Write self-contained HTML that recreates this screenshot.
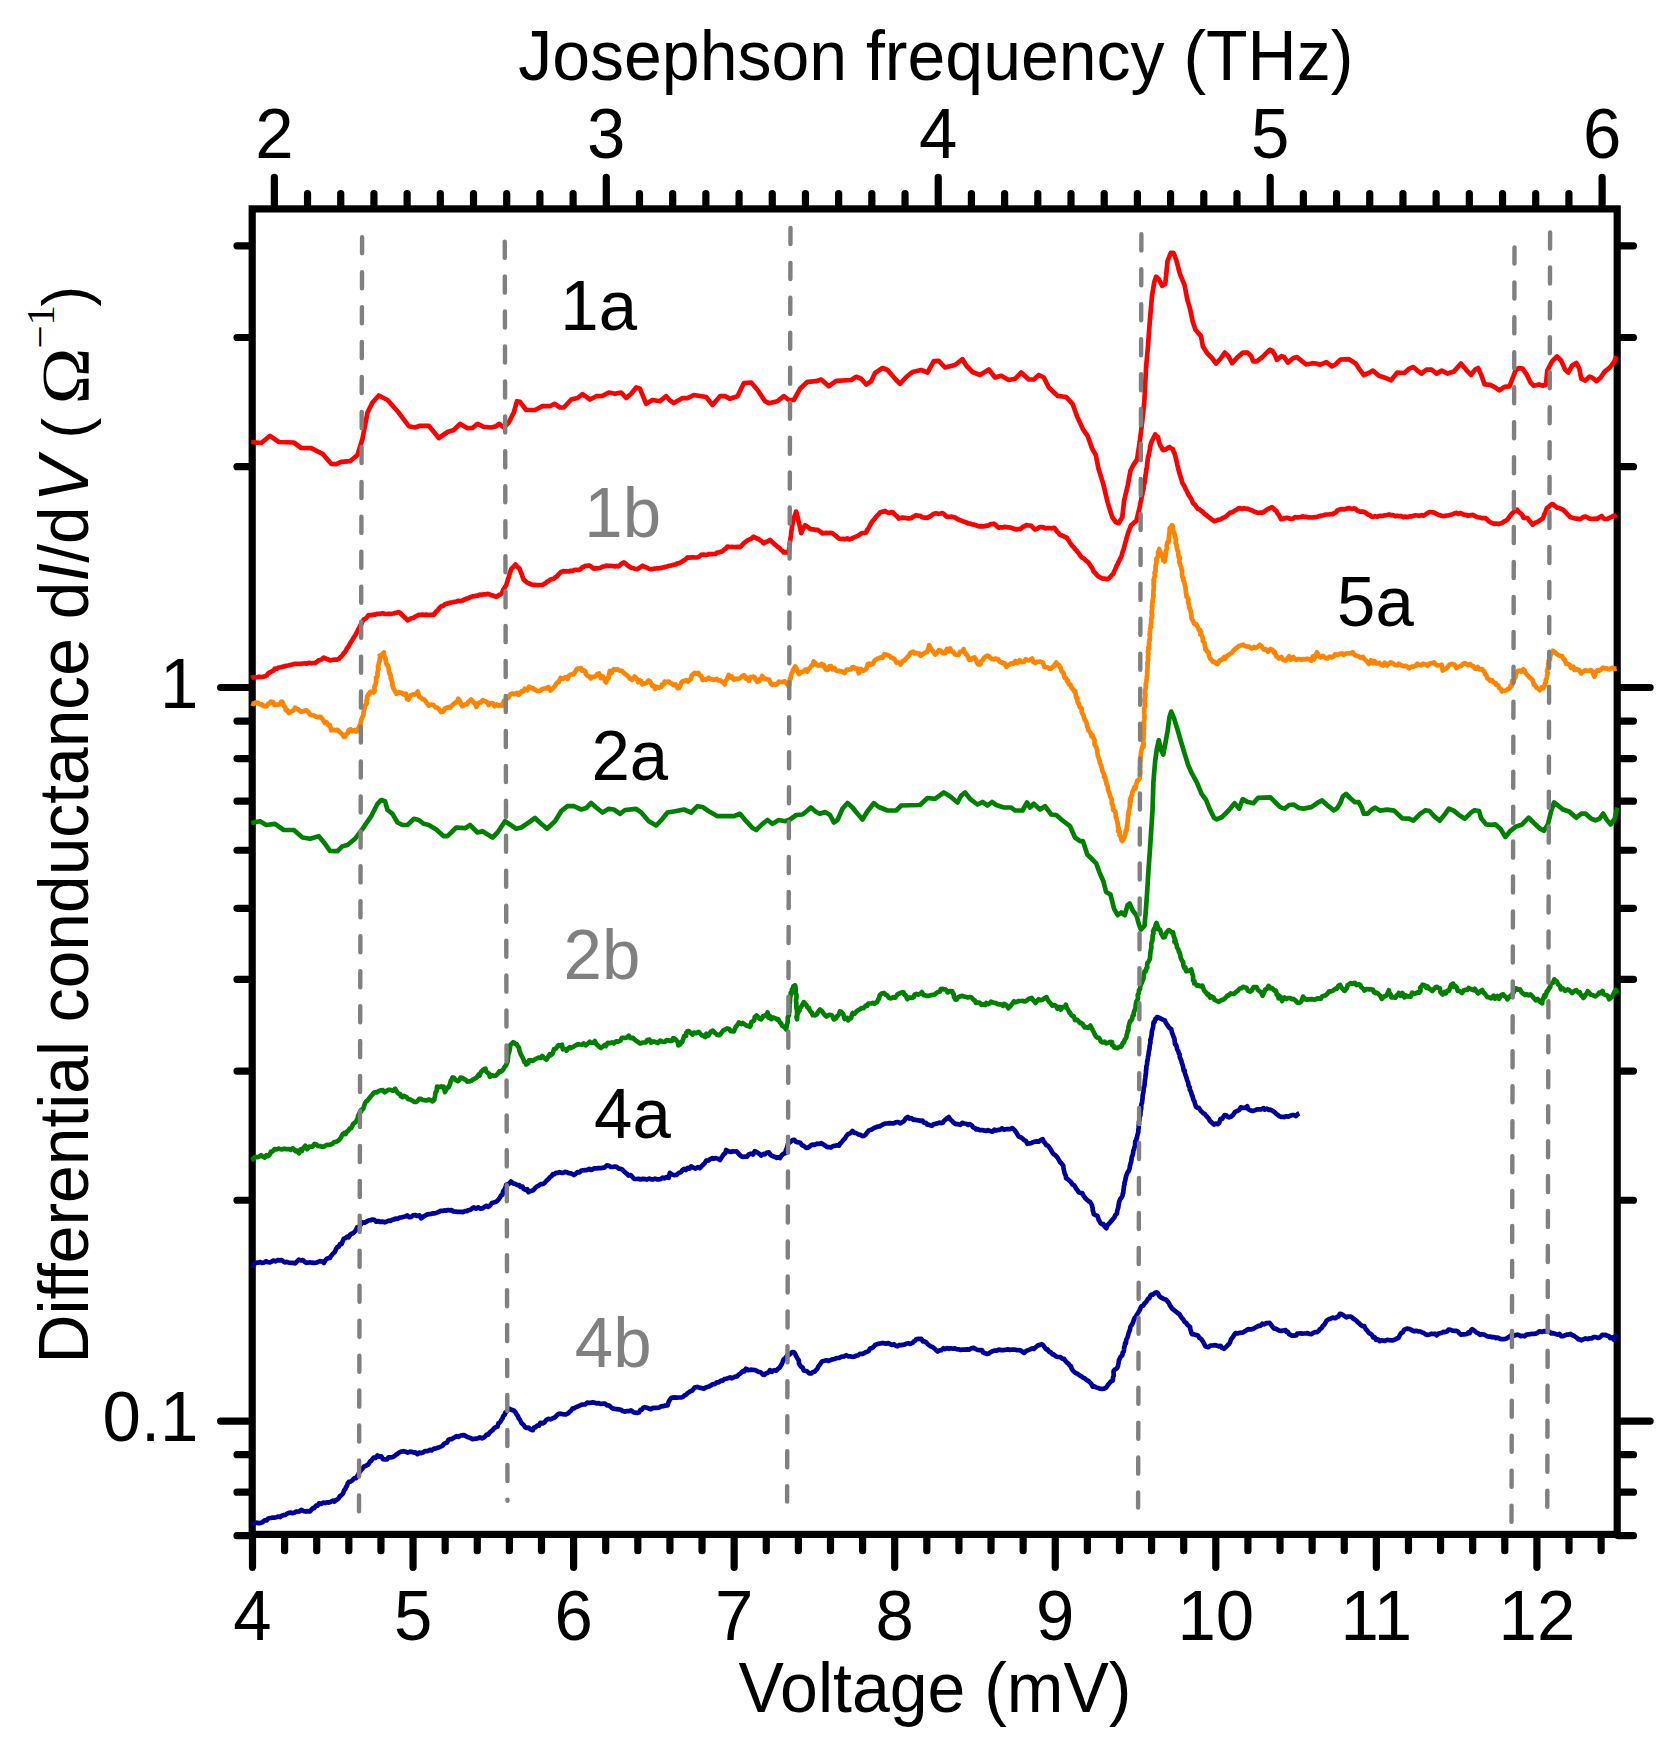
<!DOCTYPE html>
<html lang="en"><head><meta charset="utf-8"><title>Differential conductance vs voltage</title>
<style>html,body{margin:0;padding:0;background:#fff}svg{display:block}text{font-family:"Liberation Sans",Arial,sans-serif}.tk{stroke:#000;stroke-width:7.2;stroke-linecap:round;fill:none}.cv{fill:none;stroke-width:4.7;stroke-linejoin:round;stroke-linecap:butt}.ds{stroke:#808080;stroke-width:4.4;stroke-linecap:round;stroke-dasharray:16.1 18.85;fill:none}</style></head><body>
<svg width="1680" height="1749" viewBox="0 0 1680 1749">
<rect width="1680" height="1749" fill="#fff"/>
<rect x="252.2" y="208.9" width="1365.0" height="1325.5" fill="none" stroke="#000" stroke-width="7.2"/>
<path class="tk" d="M252.50 1535.4V1567.3M284.61 1535.4V1550.7M316.72 1535.4V1550.7M348.83 1535.4V1550.7M380.94 1535.4V1550.7M413.05 1535.4V1567.3M445.16 1535.4V1550.7M477.27 1535.4V1550.7M509.38 1535.4V1550.7M541.49 1535.4V1550.7M573.60 1535.4V1567.3M605.71 1535.4V1550.7M637.82 1535.4V1550.7M669.93 1535.4V1550.7M702.04 1535.4V1550.7M734.15 1535.4V1567.3M766.26 1535.4V1550.7M798.37 1535.4V1550.7M830.48 1535.4V1550.7M862.59 1535.4V1550.7M894.70 1535.4V1567.3M926.81 1535.4V1550.7M958.92 1535.4V1550.7M991.03 1535.4V1550.7M1023.14 1535.4V1550.7M1055.25 1535.4V1567.3M1087.36 1535.4V1550.7M1119.47 1535.4V1550.7M1151.58 1535.4V1550.7M1183.69 1535.4V1550.7M1215.80 1535.4V1567.3M1247.91 1535.4V1550.7M1280.02 1535.4V1550.7M1312.13 1535.4V1550.7M1344.24 1535.4V1550.7M1376.35 1535.4V1567.3M1408.46 1535.4V1550.7M1440.57 1535.4V1550.7M1472.68 1535.4V1550.7M1504.79 1535.4V1550.7M1536.90 1535.4V1567.3M1569.01 1535.4V1550.7M1601.12 1535.4V1550.7M274.35 207.9V177.4M307.54 207.9V193.6M340.74 207.9V193.6M373.93 207.9V193.6M407.13 207.9V193.6M440.32 207.9V193.6M473.51 207.9V193.6M506.71 207.9V193.6M539.90 207.9V193.6M573.10 207.9V193.6M606.29 207.9V177.4M639.48 207.9V193.6M672.68 207.9V193.6M705.87 207.9V193.6M739.07 207.9V193.6M772.26 207.9V193.6M805.45 207.9V193.6M838.65 207.9V193.6M871.84 207.9V193.6M905.04 207.9V193.6M938.23 207.9V177.4M971.42 207.9V193.6M1004.62 207.9V193.6M1037.81 207.9V193.6M1071.01 207.9V193.6M1104.20 207.9V193.6M1137.39 207.9V193.6M1170.59 207.9V193.6M1203.78 207.9V193.6M1236.98 207.9V193.6M1270.17 207.9V177.4M1303.36 207.9V193.6M1336.56 207.9V193.6M1369.75 207.9V193.6M1402.95 207.9V193.6M1436.14 207.9V193.6M1469.33 207.9V193.6M1502.53 207.9V193.6M1535.72 207.9V193.6M1568.92 207.9V193.6M1602.11 207.9V177.4M251.2 245.83H237M1618.2 245.83H1633.5M251.2 337.48H237M1618.2 337.48H1633.5M251.2 466.66H237M1618.2 466.66H1633.5M251.2 687.50H220.6M1618.2 687.50H1650.1M251.2 721.07H237M1618.2 721.07H1633.5M251.2 758.59H237M1618.2 758.59H1633.5M251.2 801.14H237M1618.2 801.14H1633.5M251.2 850.25H237M1618.2 850.25H1633.5M251.2 908.34H237M1618.2 908.34H1633.5M251.2 979.43H237M1618.2 979.43H1633.5M251.2 1071.08H237M1618.2 1071.08H1633.5M251.2 1200.26H237M1618.2 1200.26H1633.5M251.2 1421.10H220.6M1618.2 1421.10H1650.1M251.2 1454.67H237M1618.2 1454.67H1633.5M251.2 1492.19H237M1618.2 1492.19H1633.5M251.2 1535.70H237M1618.2 1535.70H1633.5"/>
<g class="cv">
<polyline stroke="#00009b" points="251.2,1524.2 253.2,1523.7 254.9,1523.4 256.8,1522.6 258.8,1523.3 260.7,1522.9 262.5,1522.2 264.6,1520.3 266.6,1520.5 268.2,1518.5 270.4,1518.0 272.5,1517.7 274.3,1517.6 276.3,1517.3 278.4,1516.6 280.2,1517.1 281.6,1515.8 283.5,1515.2 285.3,1515.0 286.9,1513.7 289.0,1512.9 290.7,1512.6 292.3,1513.1 294.5,1512.7 296.2,1511.5 297.7,1511.8 299.5,1511.4 301.3,1509.8 303.5,1511.0 305.7,1511.6 307.6,1511.1 309.9,1511.5 311.3,1509.7 312.9,1508.2 314.2,1508.1 316.0,1505.5 317.6,1505.7 319.0,1503.4 321.1,1503.9 323.3,1502.6 325.0,1503.1 326.9,1502.3 328.8,1502.7 330.7,1501.9 332.7,1500.6 334.4,1501.6 336.1,1499.8 337.2,1499.8 338.9,1497.9 340.2,1495.9 341.2,1495.5 342.6,1494.0 343.6,1492.2 344.2,1490.1 345.2,1489.3 346.2,1486.6 346.9,1486.1 347.9,1483.0 348.8,1481.9 350.5,1481.6 352.3,1480.4 354.4,1478.2 356.3,1478.1 357.3,1476.0 358.4,1474.2 359.4,1472.4 360.4,1471.1 361.5,1469.5 362.5,1468.5 364.1,1466.5 366.0,1465.8 367.6,1464.8 368.4,1464.4 370.1,1461.4 371.3,1460.7 372.6,1458.8 373.7,1457.6 375.7,1457.9 377.5,1455.5 379.4,1456.6 381.2,1456.3 382.9,1459.1 385.1,1459.5 387.0,1459.3 388.5,1457.3 390.4,1457.3 391.6,1457.4 393.6,1456.7 395.4,1455.3 397.7,1453.8 399.4,1452.4 401.2,1451.6 403.6,1451.2 405.6,1451.7 407.6,1452.6 410.0,1451.7 412.0,1451.9 413.8,1452.6 415.4,1452.4 417.4,1454.1 419.2,1452.6 421.4,1453.1 423.0,1452.6 424.8,1451.2 427.4,1451.2 429.6,1449.9 431.6,1450.4 434.0,1448.5 435.4,1448.6 437.3,1447.9 438.9,1447.5 441.0,1446.5 442.5,1445.7 444.2,1443.6 445.5,1443.1 447.0,1442.7 448.4,1439.9 450.1,1439.1 451.5,1439.2 453.2,1438.1 454.8,1437.2 456.4,1436.2 458.3,1436.9 460.1,1435.9 461.7,1435.3 464.0,1435.2 465.9,1436.2 467.9,1437.3 470.0,1437.7 472.1,1439.2 474.3,1438.8 476.0,1438.7 478.3,1438.2 479.9,1437.3 482.0,1438.3 483.9,1437.5 485.1,1436.5 486.7,1434.5 488.2,1434.7 489.6,1432.6 491.2,1431.2 492.8,1430.0 494.4,1427.9 495.6,1427.3 497.5,1426.6 498.4,1423.3 499.4,1422.9 500.6,1421.4 501.5,1419.6 502.6,1418.2 503.2,1416.1 504.7,1414.7 505.4,1412.6 506.2,1412.1 507.9,1409.7 509.5,1408.7 511.2,1409.7 512.8,1410.3 514.1,1410.8 515.6,1412.6 516.6,1414.4 517.7,1415.7 518.9,1418.6 519.9,1419.6 521.4,1422.9 522.1,1423.5 523.8,1425.1 525.0,1427.2 526.3,1428.0 528.5,1427.5 530.3,1429.2 532.8,1430.2 534.0,1427.5 535.7,1427.1 537.1,1425.6 539.0,1425.6 540.4,1422.9 542.6,1423.4 544.5,1422.4 546.2,1420.1 548.2,1418.9 550.5,1419.3 552.5,1418.4 554.1,1417.8 555.7,1416.6 557.3,1414.9 558.7,1413.8 560.6,1413.7 562.5,1414.1 564.4,1414.3 566.0,1414.4 567.9,1413.5 569.3,1412.2 570.8,1411.0 572.5,1408.6 574.5,1408.1 575.9,1407.1 578.4,1406.2 579.8,1405.6 581.8,1404.7 583.5,1404.5 585.4,1404.3 587.1,1402.7 588.9,1402.8 590.5,1402.8 592.6,1402.4 594.5,1402.6 596.3,1403.3 598.8,1403.1 600.6,1404.0 603.2,1403.6 605.1,1403.6 606.9,1405.3 608.8,1405.3 610.8,1407.1 612.5,1408.4 614.7,1408.9 616.7,1409.1 618.9,1409.4 620.8,1409.7 622.7,1411.0 624.7,1411.6 627.2,1411.0 629.1,1411.2 631.0,1410.4 633.4,1412.2 635.3,1412.7 637.2,1412.9 639.1,1412.3 640.5,1409.9 641.7,1410.0 643.3,1407.7 644.8,1407.2 646.9,1407.8 648.9,1408.5 650.8,1409.2 652.4,1408.1 654.5,1407.8 656.9,1407.9 658.8,1407.7 661.2,1406.4 663.3,1406.2 665.3,1405.6 667.6,1405.4 668.2,1403.3 668.8,1401.6 670.0,1399.5 671.3,1398.0 672.3,1397.6 674.6,1397.4 676.9,1397.7 678.9,1397.5 681.2,1397.4 682.9,1397.0 684.3,1395.5 686.1,1394.8 687.6,1393.1 689.1,1392.1 690.5,1391.3 692.0,1390.8 693.6,1388.9 694.6,1387.6 697.2,1386.9 699.8,1387.9 701.8,1388.1 703.9,1388.6 705.6,1387.7 707.3,1386.9 709.2,1386.4 711.5,1385.1 713.1,1384.1 715.0,1384.1 716.9,1382.3 718.9,1382.3 720.9,1380.6 722.5,1380.8 724.3,1379.1 726.1,1378.7 728.0,1378.2 730.1,1377.4 731.9,1378.3 733.9,1377.2 735.4,1376.6 737.1,1376.4 738.8,1374.5 740.1,1373.8 741.5,1372.4 743.4,1370.8 744.5,1371.3 746.0,1368.7 748.3,1370.2 750.6,1369.7 752.6,1369.8 754.8,1370.0 756.7,1370.8 758.3,1371.9 760.0,1372.0 761.7,1373.1 763.0,1374.6 764.4,1374.8 765.8,1373.4 767.3,1372.9 768.9,1371.9 770.0,1370.1 771.8,1371.9 774.2,1370.2 776.3,1370.6 777.9,1368.9 779.6,1367.7 781.1,1365.3 781.7,1364.3 782.6,1362.0 783.2,1360.3 783.8,1359.2 785.5,1357.8 787.1,1355.6 788.7,1355.2 790.6,1353.7 792.2,1352.0 793.7,1352.1 794.8,1353.2 796.0,1355.8 796.9,1357.4 797.7,1359.0 798.7,1360.1 799.0,1363.4 800.0,1365.4 801.3,1366.8 802.5,1367.4 803.7,1370.4 804.8,1370.7 807.1,1371.3 809.2,1373.4 811.5,1373.3 812.8,1372.0 814.6,1371.7 816.0,1370.0 817.3,1369.0 818.3,1366.5 819.4,1365.2 820.4,1363.8 821.6,1362.0 822.4,1361.2 824.4,1360.8 826.6,1360.3 828.4,1361.0 830.5,1360.1 832.5,1359.3 834.7,1359.0 836.4,1358.1 838.8,1358.0 840.8,1357.1 842.4,1356.6 844.1,1356.4 846.2,1355.2 848.1,1356.3 849.9,1356.4 852.1,1356.8 854.2,1356.7 855.9,1355.8 858.1,1355.4 859.7,1353.9 862.0,1354.0 864.1,1353.2 865.7,1352.1 867.6,1351.7 868.8,1350.8 870.0,1348.5 871.9,1347.9 873.8,1346.7 875.0,1345.0 876.7,1344.3 878.8,1343.7 880.6,1343.5 882.6,1342.9 884.4,1343.4 886.2,1343.7 888.3,1343.0 889.9,1344.0 891.9,1344.9 894.0,1344.2 895.8,1345.8 897.5,1346.3 899.4,1344.9 900.9,1345.3 902.7,1344.9 904.4,1344.6 905.9,1343.8 908.4,1343.3 910.3,1343.9 912.7,1342.9 913.8,1341.4 915.0,1341.0 916.1,1339.4 918.7,1338.9 921.4,1338.9 922.8,1341.4 924.6,1341.3 926.3,1342.5 927.8,1344.4 929.3,1345.4 931.0,1346.6 932.7,1347.1 934.5,1348.5 935.9,1350.0 937.7,1351.5 939.4,1350.4 941.3,1350.2 943.5,1348.2 944.7,1349.1 947.1,1348.1 949.1,1348.8 950.8,1348.3 953.2,1348.7 954.8,1348.3 956.6,1349.1 958.7,1349.3 960.5,1349.9 962.4,1349.6 964.6,1349.7 967.0,1349.4 969.3,1349.7 971.1,1348.4 973.7,1347.9 975.6,1349.0 977.6,1350.0 980.0,1350.2 981.8,1350.0 983.2,1352.5 985.3,1353.3 987.1,1354.0 988.8,1353.5 990.6,1352.2 992.4,1351.2 994.9,1350.5 996.8,1350.6 998.9,1349.6 1001.3,1350.1 1003.5,1350.1 1005.8,1349.7 1007.7,1349.4 1010.0,1349.9 1012.1,1349.5 1014.5,1349.6 1016.4,1350.1 1018.8,1350.2 1020.6,1350.3 1022.1,1351.5 1024.0,1352.9 1025.9,1351.2 1028.3,1350.1 1030.2,1349.3 1032.2,1348.3 1033.8,1348.9 1036.3,1346.8 1038.0,1345.4 1040.0,1344.9 1041.7,1344.2 1043.3,1345.4 1044.7,1347.3 1046.2,1349.4 1047.5,1349.4 1049.4,1352.1 1050.9,1352.4 1052.4,1354.4 1053.8,1354.4 1056.1,1356.5 1057.8,1356.9 1060.4,1357.1 1062.4,1358.8 1064.1,1358.9 1065.6,1361.1 1067.1,1362.8 1068.7,1363.9 1069.7,1365.5 1071.0,1366.3 1071.7,1368.9 1072.9,1370.5 1073.8,1371.5 1075.9,1373.3 1077.6,1373.8 1080.0,1375.6 1081.4,1376.3 1082.8,1377.6 1084.6,1378.3 1086.3,1379.8 1088.3,1380.8 1089.8,1382.2 1091.3,1383.9 1092.7,1386.6 1094.5,1386.3 1096.0,1387.5 1098.0,1387.8 1099.8,1388.7 1102.0,1388.9 1104.1,1388.6 1106.1,1387.6 1107.2,1386.1 1108.2,1384.6 1109.6,1383.0 1110.8,1381.5 1112.0,1381.1 1112.8,1380.6 1113.0,1377.3 1113.8,1375.6 1113.5,1371.7 1113.6,1371.0 1114.6,1369.8 1116.4,1368.7 1117.6,1367.1 1118.1,1365.4 1118.5,1363.2 1119.0,1360.0 1119.6,1359.2 1120.4,1357.1 1121.3,1356.3 1122.4,1355.1 1122.7,1352.4 1123.7,1351.5 1124.0,1349.8 1124.2,1347.2 1124.7,1346.1 1125.1,1343.0 1126.0,1343.3 1126.2,1340.0 1126.8,1338.6 1127.5,1337.4 1128.3,1334.4 1128.7,1332.9 1129.3,1331.4 1129.9,1329.8 1130.4,1326.9 1131.3,1325.4 1132.2,1324.3 1132.9,1322.8 1133.7,1320.3 1134.6,1317.9 1135.6,1317.4 1136.4,1315.3 1137.3,1314.1 1138.5,1312.2 1139.7,1310.1 1140.6,1307.9 1141.7,1306.0 1143.4,1305.6 1144.5,1303.3 1145.9,1302.3 1146.9,1300.8 1148.3,1298.5 1149.4,1298.2 1150.4,1295.7 1151.5,1294.5 1153.1,1294.6 1155.1,1292.8 1156.5,1292.4 1157.8,1293.1 1159.2,1295.8 1160.5,1297.2 1162.3,1298.1 1164.3,1299.2 1165.9,1299.5 1167.6,1301.5 1168.9,1302.8 1169.9,1305.5 1170.6,1306.2 1172.0,1308.5 1172.8,1309.1 1174.4,1310.4 1176.2,1311.8 1177.8,1313.2 1179.5,1314.1 1180.4,1315.9 1181.8,1318.0 1183.2,1319.3 1184.4,1321.7 1186.2,1322.9 1187.3,1324.6 1188.6,1325.7 1190.1,1327.0 1190.1,1328.7 1190.8,1330.5 1191.3,1332.7 1192.1,1334.2 1193.7,1334.3 1195.6,1334.9 1198.1,1335.5 1199.2,1337.7 1201.1,1338.9 1202.4,1340.8 1203.9,1343.2 1205.1,1345.8 1206.1,1346.7 1208.4,1347.1 1210.3,1345.6 1212.3,1345.5 1214.2,1345.2 1216.3,1345.3 1218.7,1346.3 1220.6,1345.8 1221.8,1347.6 1224.0,1348.8 1225.5,1347.5 1227.6,1345.3 1229.3,1343.7 1230.0,1342.4 1230.9,1339.6 1231.9,1338.2 1232.9,1337.0 1234.1,1335.0 1235.6,1333.0 1237.6,1333.5 1239.9,1332.8 1241.9,1332.6 1243.2,1332.5 1244.6,1331.4 1246.2,1330.5 1248.1,1329.1 1250.0,1329.3 1251.6,1329.3 1253.4,1328.7 1255.1,1327.6 1257.0,1326.7 1258.4,1325.9 1260.5,1325.8 1262.3,1323.7 1264.3,1324.4 1266.1,1323.2 1268.1,1323.2 1269.6,1322.8 1270.8,1324.4 1272.6,1326.8 1274.0,1328.7 1275.5,1328.7 1277.4,1329.7 1279.4,1330.7 1281.3,1330.9 1283.4,1330.5 1285.6,1330.1 1286.5,1331.8 1288.0,1331.9 1289.0,1334.1 1290.0,1334.6 1292.0,1335.7 1294.6,1335.6 1296.2,1335.5 1297.2,1333.7 1299.0,1333.5 1300.5,1333.3 1302.6,1333.6 1304.2,1333.5 1306.2,1333.4 1307.6,1333.2 1309.7,1334.0 1311.5,1334.1 1313.2,1332.9 1315.1,1332.1 1316.8,1332.2 1318.6,1331.1 1320.0,1329.1 1321.4,1328.3 1322.8,1326.0 1324.4,1324.5 1325.5,1322.8 1326.6,1320.6 1328.9,1319.1 1330.6,1318.7 1332.8,1317.6 1335.3,1318.2 1337.4,1316.8 1338.6,1316.4 1339.9,1313.8 1341.6,1314.1 1342.9,1315.0 1344.6,1316.1 1346.3,1317.3 1348.1,1316.5 1350.1,1316.5 1351.7,1317.2 1352.9,1318.4 1354.6,1319.4 1356.3,1320.6 1357.6,1322.1 1359.0,1323.2 1361.1,1325.2 1362.4,1326.2 1364.2,1326.0 1365.8,1329.2 1367.3,1330.6 1368.2,1332.2 1369.7,1333.6 1370.7,1333.8 1372.1,1335.2 1373.2,1337.4 1374.8,1337.4 1376.1,1339.9 1377.8,1339.3 1379.8,1341.2 1381.3,1340.3 1383.1,1340.6 1385.0,1341.1 1387.2,1339.8 1389.2,1340.2 1391.3,1340.4 1393.0,1340.3 1395.4,1339.4 1397.2,1338.4 1398.7,1337.6 1399.6,1335.6 1401.2,1333.0 1402.9,1332.3 1404.0,1330.1 1404.9,1329.4 1406.9,1328.6 1408.6,1328.8 1410.2,1329.2 1412.2,1330.5 1414.4,1331.3 1416.4,1330.8 1418.4,1331.4 1420.3,1331.5 1422.1,1332.4 1423.8,1333.0 1425.4,1334.3 1427.4,1335.0 1429.7,1334.4 1431.5,1333.7 1433.5,1334.0 1434.9,1333.7 1436.6,1335.4 1438.2,1333.5 1440.0,1333.4 1442.0,1332.7 1443.5,1331.8 1445.1,1332.1 1447.3,1331.3 1448.6,1329.5 1450.5,1329.8 1452.5,1330.7 1455.0,1330.8 1456.3,1330.8 1458.0,1331.6 1459.3,1333.2 1461.0,1334.6 1462.9,1334.4 1465.0,1334.3 1467.0,1334.0 1468.3,1332.4 1469.7,1333.1 1471.1,1330.2 1472.2,1329.1 1474.4,1330.6 1476.2,1332.5 1477.9,1333.1 1479.9,1334.8 1481.3,1334.2 1483.8,1334.5 1485.2,1335.1 1487.0,1336.3 1488.5,1336.6 1490.8,1336.7 1492.4,1337.3 1494.0,1337.0 1496.0,1338.1 1497.7,1337.6 1499.3,1338.5 1501.3,1339.2 1503.4,1339.2 1505.4,1338.9 1506.9,1338.3 1508.9,1337.0 1510.7,1335.5 1512.1,1334.7 1514.1,1335.7 1515.7,1335.0 1517.6,1334.6 1519.3,1335.2 1520.8,1336.2 1522.4,1335.8 1524.5,1336.3 1526.5,1334.6 1528.5,1334.4 1530.4,1334.2 1532.1,1333.8 1534.0,1333.9 1535.8,1333.7 1537.5,1332.8 1539.7,1331.3 1541.6,1332.0 1543.8,1331.2 1546.0,1331.4 1547.8,1331.7 1549.2,1331.6 1551.3,1333.3 1553.0,1333.2 1554.5,1333.6 1556.3,1334.3 1558.0,1334.7 1559.5,1333.9 1561.4,1336.2 1563.1,1336.1 1564.8,1335.3 1566.7,1334.7 1568.4,1334.6 1570.5,1333.9 1572.0,1335.1 1573.6,1335.5 1575.1,1336.6 1576.6,1337.6 1578.3,1339.3 1579.5,1339.2 1581.2,1340.3 1583.2,1339.4 1585.5,1338.4 1587.8,1339.1 1589.4,1338.4 1591.5,1338.5 1593.4,1337.2 1595.7,1337.0 1597.8,1338.0 1599.5,1337.5 1601.0,1336.2 1602.3,1334.9 1603.8,1335.1 1605.4,1334.8 1606.8,1335.6 1608.8,1336.0 1610.2,1338.1 1611.9,1337.4 1613.9,1339.6 1614.6,1336.8 1616.3,1335.5 1617.3,1334.6"/>
<polyline stroke="#00009b" points="251.2,1265.0 252.9,1265.7 254.6,1263.8 256.6,1262.7 258.4,1262.7 259.8,1262.0 261.9,1262.8 264.0,1262.7 266.1,1261.2 267.7,1262.1 270.1,1262.3 271.7,1261.5 273.9,1260.5 275.7,1261.4 277.6,1260.1 280.1,1260.4 281.7,1260.0 283.8,1261.8 285.2,1262.4 286.9,1261.8 288.8,1262.6 291.2,1262.8 292.7,1262.8 295.2,1263.4 296.9,1261.7 298.9,1259.7 301.1,1260.5 302.8,1260.0 304.5,1261.7 306.2,1262.8 307.7,1262.7 309.8,1262.3 311.9,1262.7 314.0,1262.9 316.4,1262.7 318.0,1261.9 319.9,1261.1 321.9,1261.3 323.9,1263.0 325.2,1260.6 326.8,1258.7 328.3,1258.2 329.9,1258.0 330.8,1256.2 332.5,1254.2 333.8,1252.9 335.0,1251.6 336.1,1248.9 337.6,1246.8 338.7,1246.7 339.9,1244.2 341.6,1244.1 342.7,1241.2 343.7,1238.8 345.5,1238.1 347.3,1236.6 348.7,1237.3 350.4,1234.5 352.1,1233.3 353.2,1233.3 355.0,1231.3 356.0,1230.0 357.1,1227.4 358.8,1227.4 359.6,1225.8 361.1,1224.1 362.3,1222.2 364.6,1222.7 366.6,1221.6 368.5,1220.5 370.6,1220.2 372.5,1219.5 374.3,1219.8 376.3,1221.7 378.5,1221.0 379.7,1222.0 382.4,1221.6 384.6,1222.3 386.4,1221.7 388.8,1220.7 390.4,1220.9 392.2,1219.8 394.1,1219.4 395.5,1218.6 397.8,1218.9 399.6,1217.6 401.4,1217.5 403.0,1217.0 405.2,1216.5 407.4,1215.5 409.3,1217.2 411.1,1217.0 412.9,1215.4 415.0,1215.0 417.2,1216.0 419.5,1215.3 421.2,1218.4 423.4,1216.6 425.4,1215.5 427.4,1214.4 429.4,1214.2 431.1,1213.9 433.1,1213.4 434.8,1213.4 437.1,1212.6 438.7,1212.1 440.6,1210.8 442.8,1210.9 444.3,1210.4 446.3,1210.7 448.0,1210.0 450.1,1210.4 451.7,1210.2 453.5,1211.5 455.7,1211.7 457.3,1211.9 459.3,1211.8 461.1,1211.8 462.8,1212.1 465.0,1211.1 466.7,1211.1 468.4,1210.2 470.6,1209.7 472.1,1208.4 474.0,1207.4 476.0,1208.7 478.2,1207.3 480.5,1208.7 482.2,1208.5 484.6,1206.8 486.5,1205.8 488.3,1206.9 489.9,1205.7 491.9,1203.1 493.7,1202.6 495.6,1202.0 497.6,1200.6 499.1,1198.8 500.0,1197.4 501.1,1195.4 502.5,1194.6 503.1,1191.5 503.9,1190.4 504.5,1189.5 505.5,1187.5 506.2,1184.8 508.0,1184.4 509.6,1183.2 511.0,1181.5 513.5,1183.6 515.3,1183.8 517.1,1185.1 519.2,1185.1 520.5,1187.0 522.5,1186.6 523.6,1188.9 525.6,1189.8 527.3,1189.2 528.4,1192.2 530.0,1191.3 532.0,1190.6 533.3,1190.3 535.2,1188.0 536.7,1186.6 538.7,1185.7 540.7,1184.2 542.5,1184.1 543.9,1183.6 545.4,1182.1 546.7,1180.5 548.5,1178.9 549.9,1177.2 551.4,1176.3 552.9,1174.2 554.4,1174.2 556.0,1172.9 557.5,1173.0 559.6,1172.1 561.4,1172.8 563.1,1172.8 565.2,1171.9 566.7,1172.2 568.6,1173.2 570.5,1173.3 572.2,1173.9 573.9,1175.1 575.4,1174.1 577.4,1172.1 579.6,1172.3 581.3,1170.5 583.0,1170.3 585.1,1170.2 587.1,1170.1 589.0,1168.9 590.7,1169.9 592.4,1169.4 594.3,1168.3 596.7,1168.4 598.6,1168.1 600.5,1168.1 602.4,1167.9 604.7,1167.4 606.8,1165.3 608.9,1165.8 610.8,1167.0 613.1,1166.8 615.2,1166.5 616.6,1166.8 618.6,1168.6 620.3,1168.8 622.3,1169.5 623.8,1171.2 625.6,1172.8 627.2,1174.0 628.6,1175.6 630.7,1175.0 632.4,1176.9 634.0,1178.8 636.1,1179.0 638.5,1178.9 640.5,1179.4 642.9,1178.9 645.1,1179.1 646.7,1179.6 649.0,1178.6 651.1,1179.3 653.2,1179.4 655.0,1178.6 656.8,1179.3 658.5,1179.4 660.6,1179.2 662.7,1177.6 664.6,1178.4 666.6,1177.0 668.7,1177.9 669.8,1172.9 672.0,1174.4 674.0,1175.1 676.4,1175.0 678.1,1173.4 679.2,1172.7 681.0,1172.2 682.6,1169.9 684.1,1168.8 685.9,1170.0 687.8,1167.9 689.5,1168.7 691.1,1166.4 693.5,1167.8 695.6,1168.6 697.8,1167.2 699.8,1168.2 701.1,1166.7 703.0,1164.8 704.8,1163.1 706.2,1160.5 708.2,1160.7 709.8,1159.4 712.4,1158.2 713.8,1158.7 716.0,1158.1 718.2,1158.9 720.0,1160.0 721.0,1158.4 722.4,1156.3 723.7,1154.2 725.2,1153.4 726.1,1150.0 728.3,1151.2 730.7,1151.9 732.7,1151.4 735.1,1151.5 736.5,1151.3 737.8,1152.7 739.5,1154.8 740.8,1155.9 742.3,1156.9 744.7,1156.6 746.9,1156.7 748.7,1154.5 750.9,1153.6 753.1,1154.5 754.8,1151.2 757.2,1152.4 759.2,1153.8 761.1,1155.6 763.5,1153.8 764.9,1154.4 766.6,1152.8 768.8,1152.3 770.5,1154.9 771.8,1155.8 773.8,1156.5 775.0,1156.9 776.8,1157.8 778.4,1157.4 780.0,1158.0 781.2,1156.0 782.5,1154.4 783.8,1153.6 785.2,1153.3 785.9,1150.2 786.7,1148.7 787.3,1146.5 787.9,1144.2 789.0,1143.0 790.7,1141.6 792.4,1140.2 794.5,1139.9 796.2,1142.0 798.4,1142.3 800.3,1142.7 802.0,1145.2 803.1,1145.5 804.7,1146.6 806.1,1147.9 808.2,1147.6 810.5,1145.7 812.4,1144.7 814.6,1144.9 816.8,1143.7 819.3,1144.0 821.4,1143.1 823.0,1144.3 825.0,1145.5 827.2,1147.1 829.0,1147.1 830.9,1147.6 833.0,1146.0 834.9,1145.9 836.9,1145.3 839.0,1145.7 840.2,1143.4 841.1,1142.9 842.3,1141.4 843.9,1139.3 845.1,1138.4 846.4,1136.0 848.1,1134.2 849.4,1133.6 850.9,1132.8 852.4,1130.9 854.3,1133.0 855.4,1132.8 857.2,1133.8 858.9,1134.7 860.6,1134.9 862.2,1136.1 863.7,1136.0 865.2,1135.1 866.8,1133.0 868.6,1130.7 870.0,1130.0 871.6,1129.6 873.8,1128.1 875.4,1127.6 877.5,1126.6 879.6,1126.4 881.6,1125.3 883.0,1124.4 884.8,1123.6 886.9,1123.5 889.5,1123.1 891.5,1123.4 893.7,1123.3 895.6,1122.4 898.0,1122.0 900.4,1123.4 902.6,1121.9 903.7,1121.4 904.9,1119.8 905.9,1118.1 907.7,1116.9 909.3,1118.6 911.2,1118.1 913.2,1119.8 915.1,1119.7 917.0,1120.2 918.5,1120.4 920.8,1120.9 922.5,1120.6 923.9,1122.7 925.9,1122.8 927.2,1124.7 928.8,1124.6 929.9,1125.2 932.1,1125.8 933.6,1124.1 935.3,1123.9 937.6,1123.4 939.3,1122.6 940.9,1123.1 942.8,1122.8 944.1,1120.8 945.8,1119.4 947.3,1118.1 948.8,1117.1 950.3,1119.5 951.9,1120.8 953.2,1122.3 954.9,1123.5 956.2,1124.1 958.3,1124.2 960.3,1124.8 962.2,1122.8 964.3,1123.5 966.3,1123.8 968.2,1124.8 969.9,1124.1 971.8,1125.4 972.8,1127.1 974.9,1128.1 975.9,1129.3 978.2,1129.2 979.9,1130.2 982.1,1130.1 984.0,1130.4 986.0,1131.0 988.0,1130.1 990.1,1131.1 992.3,1131.7 994.4,1129.7 996.4,1130.5 998.1,1129.9 999.9,1129.9 1002.2,1128.3 1004.2,1129.8 1006.2,1129.1 1008.3,1129.0 1010.1,1129.1 1012.3,1128.1 1014.0,1129.5 1015.0,1130.7 1016.4,1132.6 1017.2,1134.0 1018.7,1136.5 1020.7,1137.3 1022.2,1138.2 1024.1,1140.1 1025.9,1140.9 1027.4,1143.8 1029.0,1143.5 1031.2,1143.1 1033.1,1142.2 1034.8,1141.6 1037.1,1141.3 1038.7,1141.7 1040.5,1140.2 1042.8,1139.3 1043.8,1141.9 1044.8,1142.7 1046.4,1145.3 1047.7,1145.5 1048.9,1146.9 1050.0,1148.4 1051.4,1150.8 1052.4,1152.6 1054.0,1154.4 1055.1,1155.0 1056.2,1156.2 1057.5,1157.6 1059.0,1160.1 1060.1,1162.2 1061.2,1163.1 1062.5,1164.8 1063.2,1165.7 1063.5,1167.7 1064.0,1170.4 1064.6,1173.1 1065.3,1174.8 1065.7,1175.4 1066.1,1178.2 1067.6,1179.1 1069.2,1180.5 1070.9,1182.0 1072.3,1184.3 1073.9,1185.1 1074.9,1186.3 1076.1,1188.6 1077.4,1190.0 1078.6,1192.1 1080.3,1193.0 1082.3,1193.2 1083.0,1194.9 1084.8,1197.3 1085.5,1198.3 1087.2,1200.0 1088.7,1201.3 1090.2,1202.0 1092.1,1205.5 1092.0,1206.1 1092.7,1208.3 1092.7,1210.3 1093.3,1211.7 1093.8,1214.2 1095.6,1215.1 1097.4,1215.9 1098.1,1217.6 1098.7,1220.2 1099.5,1221.0 1100.7,1223.3 1102.1,1224.1 1103.4,1224.2 1104.7,1226.6 1106.4,1228.2 1107.3,1225.6 1108.8,1223.8 1109.9,1222.6 1111.2,1221.1 1112.8,1219.2 1114.5,1217.2 1115.4,1215.0 1116.9,1213.7 1117.3,1210.5 1117.8,1208.8 1118.2,1207.9 1118.6,1205.0 1119.2,1201.3 1119.5,1201.2 1120.2,1199.1 1121.5,1197.6 1122.4,1196.1 1122.9,1193.1 1123.3,1192.8 1123.5,1189.6 1123.7,1189.3 1124.0,1186.0 1124.6,1184.3 1124.4,1182.9 1125.0,1181.4 1125.7,1178.3 1126.0,1176.6 1126.8,1174.3 1127.7,1172.1 1128.6,1171.3 1129.8,1168.0 1129.8,1166.3 1130.3,1164.9 1130.7,1162.8 1131.1,1162.2 1131.6,1158.4 1131.9,1156.6 1132.6,1155.2 1133.1,1152.9 1133.3,1150.9 1133.9,1149.5 1134.4,1147.7 1135.1,1145.3 1135.2,1141.3 1136.2,1140.5 1136.6,1138.2 1136.9,1138.1 1137.2,1136.1 1137.8,1133.9 1138.3,1132.3 1138.3,1130.0 1138.7,1127.8 1138.7,1125.1 1139.0,1123.9 1138.9,1121.9 1139.5,1119.9 1139.4,1118.5 1140.1,1115.9 1140.5,1114.4 1140.4,1112.8 1140.8,1110.6 1141.3,1107.8 1141.2,1105.9 1141.5,1104.0 1142.0,1102.9 1142.2,1101.1 1142.6,1098.0 1142.6,1096.0 1143.0,1094.3 1143.2,1093.1 1143.6,1090.7 1143.7,1087.8 1144.3,1086.4 1144.6,1084.7 1144.7,1082.6 1144.9,1080.8 1145.3,1077.8 1145.5,1075.8 1145.8,1074.2 1146.0,1072.6 1146.0,1070.4 1146.4,1068.7 1146.3,1066.9 1147.1,1064.2 1147.2,1061.3 1147.5,1060.8 1147.9,1057.8 1148.0,1056.6 1148.5,1054.9 1148.7,1052.4 1149.1,1050.6 1149.5,1048.9 1149.7,1045.8 1150.0,1044.6 1150.5,1042.2 1150.3,1040.0 1151.0,1038.3 1151.2,1036.4 1151.6,1035.2 1151.8,1032.2 1152.0,1030.9 1152.8,1028.3 1153.0,1027.7 1153.2,1025.9 1153.6,1022.2 1154.4,1022.4 1155.4,1019.0 1156.0,1019.3 1157.1,1017.1 1159.3,1017.8 1161.3,1018.8 1162.9,1019.6 1164.9,1020.4 1165.7,1022.5 1166.9,1024.3 1167.6,1025.3 1168.5,1026.8 1170.2,1028.5 1171.2,1029.1 1172.0,1032.7 1172.3,1033.4 1172.8,1034.7 1174.0,1037.8 1174.4,1038.6 1174.7,1041.3 1175.0,1044.2 1176.0,1044.6 1176.9,1047.7 1177.2,1049.6 1178.0,1050.6 1178.5,1052.1 1178.9,1053.5 1179.8,1054.6 1179.7,1056.9 1180.6,1059.1 1181.4,1060.8 1181.7,1062.7 1182.4,1064.4 1183.0,1066.6 1183.7,1070.7 1184.6,1070.4 1185.0,1073.5 1185.6,1075.4 1186.4,1077.4 1187.0,1079.7 1187.4,1080.8 1188.2,1082.7 1188.6,1085.7 1189.8,1087.6 1189.8,1090.0 1190.7,1091.0 1191.3,1092.8 1191.9,1095.3 1192.5,1095.8 1193.0,1098.2 1193.4,1099.7 1194.4,1101.3 1194.9,1103.4 1196.0,1106.7 1197.2,1107.6 1198.9,1107.9 1200.4,1110.3 1201.9,1111.8 1203.4,1113.5 1204.5,1113.7 1206.3,1116.1 1207.5,1117.1 1208.9,1118.9 1209.9,1120.9 1211.4,1122.1 1212.6,1123.3 1213.9,1124.5 1216.3,1123.5 1217.7,1124.2 1219.3,1122.7 1220.5,1118.9 1222.4,1118.8 1223.3,1117.0 1224.6,1115.1 1226.3,1115.3 1227.7,1116.8 1229.1,1117.4 1231.3,1116.5 1233.2,1114.8 1234.6,1112.5 1236.1,1111.4 1237.8,1110.8 1239.2,1110.0 1240.9,1107.3 1242.8,1107.9 1245.3,1107.9 1247.2,1106.3 1248.3,1109.2 1250.1,1110.2 1251.8,1110.8 1253.3,1110.8 1255.3,1110.1 1257.1,1109.3 1258.9,1109.4 1261.2,1109.3 1263.6,1108.2 1264.8,1109.6 1266.8,1108.7 1268.5,1109.8 1270.2,1109.6 1272.1,1110.6 1274.1,1111.8 1275.7,1113.3 1277.7,1114.8 1279.3,1116.2 1281.0,1116.9 1283.0,1116.8 1284.6,1117.1 1286.1,1116.2 1288.4,1116.6 1289.8,1116.0 1291.8,1115.1 1294.1,1115.1 1296.1,1116.0 1297.9,1114.0 1299.3,1113.4"/>
<polyline stroke="#008000" points="251.2,1160.0 252.9,1159.2 255.2,1156.9 256.8,1157.1 258.7,1156.9 261.2,1155.2 263.0,1156.7 264.7,1157.5 266.4,1155.2 267.7,1156.2 269.6,1154.9 271.1,1151.5 272.3,1151.7 274.6,1149.0 276.6,1149.5 278.5,1148.5 280.1,1149.1 282.5,1149.3 284.2,1148.7 286.0,1149.1 288.6,1149.1 290.7,1149.8 292.6,1148.3 293.7,1149.0 295.8,1151.3 296.9,1150.7 298.9,1153.3 300.5,1149.5 301.9,1150.8 303.3,1148.0 305.3,1145.7 307.1,1149.2 309.3,1146.6 311.4,1146.7 312.6,1146.7 314.5,1143.9 316.3,1144.5 317.7,1145.8 319.8,1146.1 322.0,1146.7 323.7,1146.7 325.4,1145.6 326.8,1144.9 328.3,1144.9 329.8,1144.8 332.1,1144.1 334.1,1142.0 336.1,1141.8 338.3,1140.7 339.8,1139.0 340.6,1138.2 342.7,1134.2 344.2,1133.0 345.6,1134.1 346.9,1131.6 348.4,1130.5 349.9,1128.3 351.1,1128.3 352.2,1126.1 353.4,1123.6 355.1,1122.5 356.1,1121.5 356.9,1119.9 357.9,1117.8 358.1,1116.1 359.7,1112.6 361.0,1111.8 361.1,1109.8 362.4,1109.6 363.4,1108.3 364.5,1104.8 365.3,1102.6 366.4,1101.2 367.4,1100.7 368.9,1098.7 369.8,1097.6 372.0,1095.0 373.8,1092.7 375.3,1092.2 377.2,1092.3 378.7,1090.9 380.9,1090.3 382.9,1090.2 384.6,1092.2 386.9,1090.7 389.2,1089.7 390.7,1090.1 392.9,1090.7 395.1,1088.7 396.3,1090.9 398.1,1093.5 400.1,1094.1 400.8,1096.1 402.5,1097.2 404.0,1095.8 406.8,1097.3 408.1,1099.1 410.3,1099.5 412.5,1100.7 414.6,1102.0 416.3,1101.9 417.7,1100.8 419.2,1098.9 420.8,1098.8 422.6,1099.9 424.8,1100.3 427.0,1100.4 429.0,1099.5 430.3,1099.9 432.7,1101.4 434.3,1099.7 434.0,1099.4 434.8,1097.0 435.1,1095.3 435.6,1092.0 436.3,1092.0 436.8,1089.9 437.0,1086.6 439.4,1087.1 441.3,1086.3 443.0,1087.6 443.7,1086.8 445.0,1092.1 446.2,1089.6 446.9,1088.1 448.4,1087.6 449.1,1085.9 449.9,1084.5 450.7,1081.0 451.5,1080.2 452.4,1077.4 453.9,1077.8 455.7,1080.1 457.9,1081.2 459.2,1080.2 460.6,1077.7 462.3,1077.8 463.8,1078.9 465.6,1079.8 467.1,1081.6 468.9,1081.5 471.3,1080.8 472.8,1079.6 475.1,1078.5 476.7,1077.4 478.7,1074.5 479.6,1075.7 481.2,1071.5 481.9,1071.4 483.3,1069.6 485.4,1068.6 485.9,1070.9 487.7,1073.0 488.9,1073.4 489.9,1076.8 491.9,1075.2 493.6,1075.8 495.9,1075.7 497.4,1074.2 499.2,1071.4 500.5,1071.8 502.3,1070.5 503.4,1069.3 504.5,1066.9 505.4,1066.3 507.0,1062.9 507.7,1061.3 507.9,1058.6 508.2,1055.3 508.2,1054.8 509.2,1052.1 508.9,1051.8 509.5,1051.0 510.1,1047.2 510.4,1044.9 511.9,1043.7 512.0,1043.6 513.2,1042.2 514.5,1042.9 515.5,1044.1 516.8,1044.2 518.0,1046.7 519.1,1047.9 519.4,1050.5 520.5,1053.6 520.9,1054.7 521.8,1055.9 523.5,1059.5 524.3,1061.9 525.4,1062.3 526.1,1064.6 528.3,1063.2 529.0,1060.4 531.1,1060.1 532.4,1061.0 534.4,1059.8 536.1,1058.8 538.1,1057.7 540.6,1058.0 542.2,1056.0 544.4,1058.2 546.4,1059.7 547.5,1058.0 549.7,1054.3 550.5,1055.3 552.5,1053.8 554.0,1049.1 555.7,1048.8 556.7,1047.5 558.4,1045.2 559.8,1045.9 561.9,1044.8 562.9,1049.3 563.8,1048.7 565.6,1049.1 566.6,1050.6 568.3,1048.3 569.9,1047.1 571.0,1048.0 573.7,1046.6 575.6,1045.4 578.1,1044.1 579.8,1044.5 581.7,1044.8 583.7,1043.5 585.6,1045.4 587.1,1044.3 589.8,1041.8 590.8,1042.8 593.3,1042.7 594.8,1041.0 596.3,1044.1 598.4,1045.9 599.5,1047.0 601.0,1048.0 602.9,1046.5 604.6,1045.0 605.8,1046.1 607.7,1042.8 609.5,1043.2 612.0,1042.4 613.9,1043.5 616.0,1041.3 617.9,1041.7 620.6,1040.6 621.9,1037.8 623.2,1037.8 625.4,1038.0 626.7,1037.6 628.7,1035.7 630.4,1038.1 633.0,1037.8 634.3,1039.4 636.0,1040.7 638.2,1042.1 640.1,1043.5 643.0,1042.5 644.4,1042.5 646.0,1042.3 647.1,1040.0 649.4,1039.6 651.0,1042.6 651.9,1041.6 654.1,1041.6 656.0,1042.2 658.0,1043.0 660.2,1040.7 662.0,1041.5 664.9,1041.9 666.5,1040.1 668.3,1040.3 670.2,1041.0 671.8,1041.0 673.3,1038.1 674.7,1038.9 676.5,1040.4 678.0,1042.9 678.3,1045.4 680.4,1044.2 681.0,1041.9 682.2,1041.9 683.3,1038.7 684.3,1035.8 686.0,1036.0 686.2,1032.7 687.6,1031.1 688.9,1031.0 691.0,1033.3 692.6,1034.6 693.9,1032.6 696.5,1033.1 698.7,1031.9 700.1,1033.5 701.9,1035.4 703.6,1035.6 705.1,1037.1 706.3,1033.7 708.1,1035.8 709.6,1033.7 710.8,1031.6 712.8,1030.6 714.6,1032.6 716.3,1033.8 717.2,1034.9 719.2,1035.2 720.7,1033.9 722.3,1031.7 723.5,1030.2 725.3,1029.6 727.1,1028.4 729.3,1029.1 730.5,1031.2 732.1,1031.2 733.8,1031.5 734.8,1029.1 735.9,1026.6 736.5,1026.0 737.9,1024.3 738.9,1022.4 741.3,1024.0 742.9,1023.0 745.4,1025.0 747.1,1026.0 748.6,1025.7 749.8,1026.8 750.7,1025.6 751.5,1021.8 753.1,1021.0 754.1,1020.6 754.8,1016.9 756.5,1015.4 758.2,1017.3 759.5,1018.5 761.2,1019.3 762.9,1016.4 763.4,1016.6 765.0,1015.4 766.6,1014.7 767.6,1012.3 768.4,1017.7 770.0,1015.9 771.3,1019.1 773.2,1017.5 775.6,1018.4 777.6,1020.0 778.1,1019.2 780.0,1022.5 781.0,1023.2 782.0,1025.7 783.8,1026.6 785.3,1028.3 786.2,1029.4 786.2,1028.2 787.0,1025.1 787.1,1024.1 787.8,1021.9 787.7,1017.8 788.5,1015.8 789.0,1015.2 788.8,1013.7 789.4,1012.0 789.4,1009.4 789.6,1005.9 789.3,1004.1 789.9,1002.7 789.9,1001.0 790.2,998.1 790.0,996.3 790.9,995.1 790.7,992.9 792.0,992.7 791.9,989.5 793.3,988.1 793.3,986.3 795.0,985.4 795.3,986.0 795.7,989.5 795.7,992.7 795.9,993.4 796.6,995.3 796.5,997.4 796.0,1000.4 796.1,1001.9 796.4,1003.4 796.3,1005.3 796.5,1008.7 797.1,1010.0 797.0,1012.0 797.1,1014.7 796.5,1017.0 797.0,1019.3 797.4,1014.2 798.2,1012.8 798.5,1010.9 799.4,1010.8 799.9,1008.1 801.0,1007.1 801.8,1005.6 802.4,1004.9 803.8,1002.1 804.9,1003.5 806.4,1004.9 807.5,1007.7 808.9,1007.8 809.3,1009.6 810.7,1011.8 812.0,1012.9 812.6,1015.2 813.3,1015.0 815.3,1015.4 817.0,1014.1 818.1,1011.7 820.0,1009.5 821.9,1011.0 822.8,1012.3 824.5,1014.8 826.4,1016.6 828.3,1015.3 829.5,1014.8 831.9,1015.3 833.9,1019.4 835.2,1018.7 836.1,1018.3 837.0,1016.2 837.9,1015.8 838.6,1014.6 839.4,1013.1 839.8,1011.5 841.4,1011.9 843.0,1013.8 843.9,1016.3 844.6,1019.0 847.3,1018.0 848.2,1020.3 849.4,1018.8 851.0,1018.2 851.9,1014.9 852.7,1013.0 854.6,1013.7 856.6,1011.3 858.6,1009.9 860.7,1008.9 861.2,1008.2 863.5,1008.2 865.6,1005.7 867.1,1005.8 868.3,1003.5 871.5,1003.4 872.7,1002.9 874.5,1003.8 876.2,1002.3 877.1,1002.1 878.2,999.4 878.9,999.0 879.8,995.1 881.7,993.5 883.9,992.9 885.5,994.5 887.2,995.3 889.0,997.8 890.8,998.5 893.4,997.1 895.1,997.7 896.5,995.9 897.2,994.6 898.6,993.7 899.9,993.3 901.8,992.4 903.6,992.3 904.3,994.7 905.5,995.1 906.6,997.7 907.4,999.2 908.9,997.7 910.7,997.6 912.6,997.8 913.7,997.1 914.7,994.4 916.3,993.9 918.1,994.7 920.5,993.6 921.9,992.1 923.5,995.1 924.9,995.1 926.2,995.8 928.8,995.8 930.7,995.2 932.3,995.1 934.8,994.4 936.9,992.7 938.6,991.9 940.0,991.5 940.8,989.1 942.6,988.8 944.2,989.5 945.9,989.6 947.6,992.4 949.8,991.0 952.3,991.3 952.8,993.1 953.6,993.9 954.0,997.2 954.9,998.4 955.2,999.5 956.5,999.7 958.4,997.1 959.9,996.5 962.2,995.8 963.9,996.5 966.1,997.0 967.9,997.6 969.9,997.0 971.6,997.5 973.5,999.9 974.8,1000.5 976.2,1003.0 978.0,1002.7 979.5,1002.6 981.5,1004.8 982.9,1004.3 985.3,1005.1 986.3,1003.0 988.5,1004.1 989.5,1003.5 991.0,1001.7 993.2,1002.5 995.8,1003.1 997.4,1004.1 999.3,1004.3 1001.0,1004.3 1003.1,1005.8 1004.1,1003.9 1006.4,1005.1 1008.4,1008.2 1010.7,1005.8 1012.5,1003.3 1014.1,1001.3 1015.5,1002.3 1017.1,1001.7 1018.8,1001.0 1021.1,1001.0 1022.4,1000.9 1024.1,1001.3 1025.5,1001.4 1027.6,999.9 1028.8,998.7 1030.6,998.4 1031.7,998.0 1033.6,1000.7 1035.5,1002.9 1037.0,1001.1 1038.7,999.2 1040.5,1000.2 1042.6,999.7 1044.2,998.4 1046.5,997.2 1047.3,999.1 1049.2,1002.0 1050.7,1003.4 1052.5,1005.7 1053.8,1005.1 1055.9,1005.8 1057.4,1008.7 1059.5,1006.9 1060.8,1009.7 1062.6,1007.1 1064.7,1007.1 1065.9,1004.8 1066.7,1008.0 1068.2,1009.9 1069.5,1012.9 1070.1,1012.6 1071.0,1014.8 1072.7,1016.3 1073.6,1016.2 1075.1,1020.1 1076.0,1019.3 1077.7,1020.2 1080.0,1023.0 1080.7,1022.6 1082.7,1024.2 1084.5,1027.3 1086.7,1027.2 1088.2,1027.9 1090.4,1025.6 1091.7,1028.2 1092.4,1029.6 1093.2,1030.9 1094.6,1034.1 1095.6,1035.9 1097.2,1037.7 1099.1,1037.9 1100.9,1041.3 1102.4,1042.5 1104.6,1041.7 1106.2,1043.3 1108.3,1042.7 1110.4,1041.8 1112.1,1042.0 1112.2,1045.3 1113.6,1045.8 1114.3,1047.5 1117.5,1048.1 1119.3,1046.8 1120.9,1046.9 1121.7,1045.9 1122.9,1042.7 1123.9,1042.7 1124.6,1039.9 1125.7,1038.5 1126.5,1037.1 1126.6,1035.3 1127.5,1032.6 1127.5,1031.0 1128.4,1030.5 1128.4,1027.5 1129.1,1024.5 1129.6,1022.8 1130.2,1021.0 1131.1,1020.5 1132.1,1018.8 1132.6,1016.0 1133.9,1014.9 1133.7,1012.9 1134.5,1010.5 1134.8,1010.1 1135.5,1007.6 1135.7,1004.7 1136.2,1002.8 1136.4,1001.3 1137.5,999.8 1138.1,997.2 1137.7,995.1 1138.9,992.7 1139.0,990.1 1140.0,989.1 1140.3,986.4 1140.8,984.4 1141.9,982.7 1142.2,979.4 1143.0,980.2 1143.8,976.9 1144.0,974.0 1144.6,971.4 1145.9,971.1 1146.2,968.6 1147.3,967.4 1147.1,965.4 1147.5,962.9 1148.5,961.8 1149.7,959.2 1149.9,959.2 1150.1,956.2 1150.3,953.4 1150.3,953.6 1150.9,949.3 1151.3,948.6 1151.3,945.0 1151.3,943.6 1151.8,941.8 1152.4,940.5 1152.6,937.0 1152.7,935.3 1153.5,933.2 1153.1,931.2 1154.1,928.8 1154.5,929.6 1155.5,925.6 1156.5,922.9 1157.4,925.6 1158.3,929.1 1159.5,929.3 1160.1,930.0 1161.4,934.0 1161.9,934.7 1163.3,937.4 1164.8,937.0 1165.7,934.3 1166.7,932.2 1167.8,931.1 1168.9,930.1 1169.9,930.9 1171.9,932.5 1173.1,932.3 1173.6,935.3 1173.9,937.0 1174.8,938.3 1174.4,941.7 1175.4,939.8 1175.6,943.2 1176.5,944.2 1177.0,947.3 1178.5,949.9 1178.9,952.2 1179.5,952.3 1180.2,954.5 1180.5,956.8 1180.9,958.5 1182.1,960.5 1182.4,961.3 1183.1,961.9 1183.5,965.9 1184.7,968.5 1185.2,967.2 1186.3,971.3 1188.2,971.0 1191.2,969.5 1191.6,970.9 1192.0,973.2 1193.0,975.7 1193.1,976.3 1193.1,980.4 1194.5,981.3 1194.2,983.5 1195.6,983.8 1196.9,985.7 1198.7,985.3 1200.6,986.5 1202.4,985.8 1203.5,988.8 1204.5,991.2 1206.0,992.4 1207.3,994.7 1208.4,994.1 1210.2,997.7 1211.3,996.4 1213.6,997.6 1214.5,999.9 1217.0,1000.9 1218.7,1001.8 1220.4,1000.7 1222.0,1000.0 1224.0,999.2 1225.5,997.9 1227.3,995.6 1228.1,995.9 1230.6,993.3 1232.1,994.0 1234.1,993.8 1236.9,991.3 1238.0,990.7 1239.4,988.8 1241.2,988.3 1243.2,986.8 1244.3,987.2 1246.5,987.8 1247.9,990.6 1250.2,991.6 1251.7,990.5 1253.6,987.1 1255.3,987.1 1256.6,987.1 1257.9,990.1 1260.0,991.4 1261.2,992.7 1262.6,995.9 1264.6,991.2 1265.1,989.7 1267.2,988.6 1268.6,985.9 1270.5,988.4 1272.1,988.0 1274.4,990.7 1275.7,990.5 1276.1,991.2 1276.6,993.8 1276.8,994.7 1278.3,995.1 1278.5,998.3 1280.5,996.7 1282.1,1001.0 1284.6,997.5 1286.3,999.0 1287.8,998.2 1290.2,998.1 1292.0,999.1 1294.0,999.2 1295.8,1000.8 1297.8,1003.0 1299.4,1002.9 1301.2,1001.6 1302.2,999.3 1303.0,996.6 1305.5,999.5 1306.6,999.7 1308.7,999.4 1311.6,999.2 1313.2,999.4 1314.9,999.6 1316.9,998.6 1318.2,998.3 1321.0,998.7 1322.3,996.2 1324.9,995.6 1326.2,994.7 1327.7,993.4 1329.1,991.4 1331.2,991.4 1332.9,990.7 1334.9,988.9 1336.7,989.0 1338.5,985.6 1340.1,984.9 1341.4,987.6 1342.7,988.9 1344.2,990.6 1344.8,990.9 1346.4,988.9 1347.2,986.8 1347.6,985.2 1349.0,984.5 1350.6,983.1 1352.2,983.8 1354.9,982.8 1356.5,985.0 1358.8,984.2 1360.1,984.8 1361.1,987.0 1363.5,989.0 1364.4,990.5 1366.6,989.0 1369.3,989.4 1370.8,989.2 1373.0,989.8 1373.9,992.2 1375.4,993.1 1376.7,992.6 1378.3,993.8 1380.2,995.7 1381.8,998.9 1384.0,996.4 1386.2,995.8 1386.6,995.2 1387.8,992.7 1388.9,990.3 1389.2,992.6 1390.6,994.2 1391.4,997.4 1393.1,997.1 1395.3,997.8 1396.6,995.6 1397.9,994.8 1398.8,992.9 1400.5,995.7 1402.3,992.9 1404.5,997.4 1406.0,995.5 1407.1,996.3 1409.4,996.4 1410.6,996.7 1412.2,992.6 1414.3,993.9 1416.0,993.3 1417.3,992.3 1419.5,992.6 1420.5,991.0 1420.3,987.7 1422.2,985.6 1422.5,984.7 1424.6,985.2 1426.4,987.8 1427.7,986.6 1429.3,988.9 1430.9,989.7 1432.3,991.0 1433.8,989.2 1435.8,987.1 1437.0,986.9 1438.4,987.9 1439.9,988.3 1440.5,992.3 1441.5,993.4 1442.8,994.5 1444.6,992.0 1446.0,993.4 1447.4,990.8 1449.0,990.7 1450.4,986.5 1451.2,984.8 1453.2,983.6 1454.0,986.9 1455.3,985.9 1456.8,987.5 1457.6,990.9 1459.4,991.0 1461.9,993.0 1464.0,990.1 1465.7,989.8 1467.4,990.0 1468.7,988.0 1470.3,988.8 1471.8,989.6 1473.9,990.3 1474.8,988.8 1476.4,991.0 1478.1,993.4 1480.0,991.7 1482.2,990.1 1483.2,992.4 1484.4,993.1 1485.5,994.6 1487.4,997.2 1489.1,997.4 1491.1,998.3 1493.7,995.8 1495.0,998.7 1497.5,995.9 1499.0,998.8 1500.9,995.5 1502.5,994.3 1503.4,994.6 1504.6,996.1 1506.0,997.1 1507.4,999.4 1509.3,997.0 1511.3,995.1 1512.7,993.9 1513.1,993.2 1514.0,991.9 1514.5,988.8 1516.3,988.3 1517.5,989.6 1520.1,989.4 1521.4,992.1 1522.9,993.4 1525.0,995.0 1526.8,994.2 1528.6,995.3 1530.5,994.4 1532.3,996.2 1533.9,998.2 1535.7,1000.2 1537.6,998.9 1539.6,1001.3 1542.2,1003.3 1542.3,1000.5 1543.3,998.4 1544.4,995.2 1545.0,997.2 1546.2,994.3 1546.8,991.2 1548.0,990.8 1549.0,988.1 1550.2,987.5 1550.6,984.3 1551.5,983.5 1552.2,982.8 1553.0,982.8 1554.3,979.3 1555.3,981.0 1556.6,981.1 1558.0,984.1 1559.2,985.5 1559.8,985.8 1560.9,989.4 1562.6,988.2 1563.5,989.0 1565.2,990.9 1567.5,989.4 1569.5,990.4 1571.3,992.2 1572.2,993.1 1574.2,991.2 1576.3,990.1 1578.0,992.5 1579.7,992.2 1581.3,995.7 1582.3,995.7 1583.4,998.0 1584.6,996.5 1586.0,994.3 1587.7,991.3 1588.8,992.1 1590.8,994.7 1593.0,995.3 1595.4,996.3 1598.1,994.4 1599.2,992.6 1600.8,993.1 1602.5,990.9 1603.2,993.7 1605.4,995.0 1606.5,995.2 1607.9,995.8 1609.1,999.3 1611.0,997.7 1612.6,996.0 1613.1,994.5 1614.6,991.7 1615.1,991.3 1615.8,989.9 1616.2,990.2 1617.3,993.6"/>
<polyline stroke="#008000" points="251.2,823.0 260.0,821.2 266.2,825.0 275.0,823.8 283.8,830.0 293.8,830.0 302.5,837.5 310.0,838.8 318.8,836.2 325.0,843.8 330.0,850.8 337.5,851.2 342.5,846.2 347.5,845.0 355.0,838.8 362.5,828.8 371.2,816.2 377.5,803.8 381.2,800.0 385.0,801.2 387.5,810.0 392.5,813.8 397.5,822.5 402.5,825.0 407.5,825.0 413.8,818.8 418.8,820.0 423.8,823.8 428.8,825.0 436.2,829.5 443.8,836.2 447.5,836.2 456.2,827.5 465.0,828.2 470.0,825.0 477.5,832.5 482.5,831.2 492.5,837.5 497.5,832.5 505.0,821.2 508.8,823.8 516.2,828.8 521.2,827.5 528.8,822.5 535.0,818.0 541.2,823.8 547.0,828.8 555.0,821.2 561.2,811.2 567.5,806.2 573.8,806.2 581.2,809.5 586.2,808.0 591.2,803.0 596.2,807.5 602.5,812.5 608.8,808.8 613.8,809.5 620.0,813.8 625.0,810.0 636.2,808.8 641.2,812.5 648.8,821.2 656.2,825.5 662.5,818.8 667.5,812.5 675.0,811.2 683.8,809.5 691.2,812.5 697.5,806.2 702.5,807.0 708.8,811.2 717.5,816.2 733.8,816.2 740.0,813.8 746.2,821.2 752.5,828.0 756.2,830.0 762.5,823.8 767.5,820.0 772.5,823.8 778.8,820.0 785.0,821.2 790.0,819.5 796.2,815.0 802.5,814.5 807.5,810.5 810.8,807.5 816.2,812.0 820.0,813.8 825.0,812.0 830.0,815.0 833.8,822.5 837.5,820.0 842.5,808.8 847.5,803.0 852.5,807.5 857.5,813.8 862.5,819.5 867.5,811.2 873.8,803.2 878.8,807.0 887.5,810.5 896.2,810.5 901.2,805.5 920.0,805.0 927.5,798.0 935.0,798.8 943.8,792.5 950.0,796.2 957.5,802.5 961.2,795.5 965.0,792.5 970.0,798.8 977.5,804.5 982.5,802.0 987.5,805.5 992.0,802.0 996.2,805.0 1003.8,807.5 1011.2,807.5 1015.0,810.5 1022.5,810.5 1027.0,802.5 1030.0,807.5 1033.8,803.8 1040.0,809.5 1045.0,806.2 1051.2,814.5 1056.2,815.0 1062.5,820.5 1070.0,826.2 1075.0,837.5 1080.0,841.2 1082.9,841.1 1087.3,854.5 1092.7,859.8 1096.2,863.4 1099.8,873.2 1103.4,881.2 1106.1,892.0 1110.5,894.6 1114.1,908.9 1117.7,915.2 1121.2,912.5 1124.8,915.2 1127.5,905.4 1129.6,903.6 1132.9,910.7 1136.4,915.2 1139.1,925.0 1140.9,929.5 1144.5,925.9 1145.7,912.5 1147.1,892.9 1148.4,871.4 1149.8,851.8 1151.1,832.1 1152.5,810.7 1153.4,782.1 1155.2,760.7 1157.0,748.2 1158.8,740.2 1161.1,750.0 1163.2,754.5 1165.0,745.5 1167.7,730.4 1169.5,717.0 1171.2,711.6 1173.9,717.9 1177.5,729.5 1181.1,742.0 1184.6,753.6 1188.2,765.2 1191.8,773.2 1197.1,783.0 1201.6,793.8 1206.1,800.0 1209.6,808.9 1214.1,817.9 1216.8,819.3 1222.1,817.0 1228.4,810.7 1234.6,803.2 1239.1,808.6 1242.7,799.1 1247.1,801.8 1253.4,803.2 1257.9,797.9 1270.4,797.3 1275.7,802.7 1280.2,807.1 1284.6,808.6 1289.1,805.0 1293.6,804.5 1298.9,808.0 1303.4,808.6 1311.4,807.1 1317.7,802.7 1322.1,800.4 1328.4,806.2 1333.8,810.4 1337.3,808.0 1340.0,803.6 1342.9,796.4 1346.1,794.0 1350.6,798.5 1354.6,802.1 1358.7,802.1 1361.7,807.6 1363.8,813.6 1367.8,813.6 1371.8,809.6 1375.3,807.6 1379.9,810.6 1387.0,809.6 1394.1,810.6 1402.2,818.3 1409.3,818.7 1413.3,820.7 1420.4,813.6 1425.5,810.2 1429.5,811.0 1434.6,816.7 1439.6,820.7 1444.7,814.6 1448.8,808.6 1453.8,810.6 1458.9,815.0 1464.9,818.7 1471.0,812.6 1474.5,810.2 1479.1,811.0 1481.1,818.3 1486.2,824.4 1491.3,824.8 1495.3,824.4 1500.4,828.8 1505.4,836.9 1510.5,830.8 1515.5,826.8 1521.6,824.8 1528.7,817.7 1534.8,823.8 1539.8,828.4 1543.9,830.8 1547.9,824.4 1551.0,811.6 1554.0,802.5 1558.0,805.5 1563.1,809.6 1569.2,811.6 1576.3,817.7 1581.3,813.6 1585.4,813.6 1591.4,818.7 1595.5,820.3 1599.5,818.7 1603.2,813.6 1606.6,819.7 1610.7,824.4 1614.7,818.7 1617.3,807.6"/>
<polyline stroke="#ff8400" points="251.2,703.2 253.7,704.1 255.4,702.6 258.0,702.9 260.0,704.5 261.8,704.2 263.1,705.6 264.8,706.5 266.7,706.2 268.3,703.7 269.4,703.5 270.7,701.6 273.0,702.0 274.3,705.0 276.3,704.7 278.0,704.6 279.8,704.4 281.3,701.7 282.4,701.8 283.9,705.9 285.2,707.2 286.0,710.5 287.6,710.3 288.8,713.0 290.0,712.2 292.2,711.0 293.6,710.2 295.1,707.8 296.1,708.9 298.1,709.4 299.4,710.5 301.1,711.8 302.9,711.4 304.8,710.8 306.3,710.1 306.6,710.3 308.9,712.7 309.8,714.3 311.5,715.0 313.4,715.3 315.6,716.5 317.5,717.2 319.2,717.2 320.5,716.8 321.7,718.2 323.3,720.3 324.8,722.9 326.3,722.2 327.5,723.7 328.3,725.2 329.6,724.9 331.3,730.3 333.2,729.8 335.5,730.3 337.3,729.8 339.5,731.8 341.0,733.0 343.0,735.1 343.8,736.9 345.3,736.6 346.0,734.4 348.1,732.9 348.7,729.9 350.8,729.3 352.1,731.1 354.3,730.0 355.6,731.5 357.2,731.5 357.9,729.1 358.8,727.8 359.5,725.9 360.7,723.3 361.1,720.2 362.0,718.4 362.4,716.9 363.3,715.3 363.5,712.5 363.8,711.2 364.5,708.7 364.5,707.7 365.1,705.7 366.7,703.5 366.5,700.5 367.3,699.2 367.0,697.0 368.4,694.2 369.5,694.4 370.2,692.0 372.3,691.4 373.6,692.4 374.7,690.7 374.3,687.8 374.7,685.7 375.5,684.7 375.9,682.6 376.2,682.0 376.0,677.6 376.9,677.2 377.6,674.8 377.3,673.5 378.0,670.0 378.6,668.9 377.9,666.5 378.3,666.2 379.1,662.0 380.0,659.9 379.7,659.2 380.4,656.6 379.8,655.5 381.4,655.3 383.9,652.4 384.0,655.1 385.3,658.6 385.5,658.1 385.8,660.4 386.5,664.0 387.0,664.9 388.0,665.6 388.6,667.8 388.7,669.8 389.5,673.5 389.8,673.2 391.0,676.3 390.7,678.3 391.1,678.5 391.8,681.4 392.5,682.8 392.3,684.4 393.1,687.8 393.7,688.9 394.3,689.8 396.5,693.8 398.5,692.2 400.4,692.6 402.0,693.0 403.3,694.3 405.4,695.0 406.0,693.7 407.0,699.0 408.4,699.7 408.9,698.2 410.9,695.2 412.4,694.6 415.5,694.4 417.8,691.6 419.3,696.9 420.9,697.4 422.6,699.2 424.3,699.6 425.6,701.1 426.9,703.1 428.8,705.6 430.8,704.5 433.4,705.0 435.6,707.5 436.8,707.5 437.8,708.1 439.8,710.1 441.1,712.1 443.4,711.4 444.9,708.5 447.4,707.5 449.1,707.0 450.4,707.6 452.2,705.3 453.4,704.2 455.3,702.5 457.1,702.2 458.2,698.7 459.8,700.8 460.9,704.0 462.2,706.2 463.5,705.7 465.3,704.3 467.1,704.4 468.0,702.2 469.6,700.9 471.1,699.5 472.4,700.7 473.6,702.6 475.0,703.3 476.4,706.8 477.4,704.6 479.0,702.8 480.8,702.4 482.7,700.2 484.4,700.9 486.9,702.1 488.7,705.0 490.8,703.1 492.9,703.4 494.7,706.2 496.7,704.5 498.6,705.9 500.1,705.1 502.2,705.6 504.0,700.7 504.7,700.4 506.1,699.6 507.4,698.3 508.8,696.8 510.0,694.6 512.1,693.6 514.6,694.1 517.3,693.0 518.5,694.9 520.3,693.2 521.7,691.2 523.2,691.5 524.8,688.7 527.4,690.3 529.0,686.6 531.1,687.9 532.8,688.1 534.7,689.6 537.6,691.1 539.3,690.9 540.5,690.6 542.2,689.0 544.6,688.5 546.1,688.4 548.3,687.0 550.5,690.5 551.9,689.4 553.9,687.4 555.4,685.2 556.0,684.0 557.5,682.3 558.6,682.2 560.6,677.9 563.0,678.7 565.4,677.1 567.6,678.9 568.7,676.0 570.8,674.5 572.3,674.2 573.5,674.4 575.6,671.2 576.9,668.8 579.0,668.7 581.0,668.1 582.0,670.6 583.2,670.1 585.1,671.0 586.1,674.4 587.6,676.0 588.7,676.0 590.6,678.4 592.0,676.8 594.1,677.0 595.9,676.2 597.4,674.0 599.2,673.5 600.9,678.1 602.6,676.3 603.0,677.9 604.3,678.7 605.0,681.1 606.0,682.4 606.8,679.2 608.0,677.7 608.7,677.8 609.1,674.3 609.8,671.0 611.6,672.9 612.5,670.5 613.9,669.2 615.8,669.6 617.5,669.2 619.9,670.7 622.1,670.8 623.7,672.9 625.4,674.3 627.0,675.3 628.0,676.2 630.0,678.7 632.2,679.9 634.5,676.6 636.4,678.1 638.1,682.2 639.3,680.2 641.1,681.0 642.2,684.4 644.9,683.4 646.5,682.9 648.5,680.5 650.1,681.5 651.7,684.3 652.4,686.0 654.2,685.9 655.0,689.0 656.8,686.9 658.9,687.7 661.4,686.8 662.0,684.6 664.1,684.1 664.6,681.6 666.2,682.3 668.5,681.5 670.1,682.7 671.7,683.6 673.5,685.2 675.5,684.3 677.8,688.2 679.0,687.9 680.1,686.1 681.4,682.8 682.7,681.1 684.5,681.1 686.2,680.2 688.1,681.5 690.1,679.3 690.9,679.2 691.5,675.6 693.3,673.8 694.1,673.4 695.1,672.9 696.4,673.6 698.3,672.8 699.8,675.6 701.2,676.0 702.6,680.0 704.9,679.1 706.2,679.8 708.5,677.7 710.8,679.2 712.4,679.4 714.3,679.9 716.7,679.0 718.2,680.5 720.2,680.3 721.5,681.5 723.1,682.4 724.6,684.4 725.3,681.5 725.9,680.7 727.3,678.5 727.9,676.9 728.7,675.0 730.4,677.5 731.8,676.4 733.9,679.8 735.5,678.8 737.7,678.9 740.0,678.2 741.4,676.9 742.4,675.9 744.2,675.3 745.7,678.5 747.1,677.8 749.0,680.9 750.7,677.1 752.8,676.7 754.4,676.8 755.9,680.0 757.3,681.9 759.3,681.1 759.9,678.8 761.3,678.8 762.1,676.0 764.5,678.8 766.0,678.8 767.4,679.5 769.2,679.7 770.9,683.7 772.4,684.7 773.4,684.1 775.5,684.8 777.1,684.3 778.9,681.6 780.4,682.0 782.7,681.9 784.8,681.4 787.6,684.7 788.7,686.7 789.3,684.1 789.6,681.4 789.8,678.9 790.5,678.8 791.0,675.6 791.6,673.5 793.0,671.1 792.9,670.3 793.9,668.8 795.2,666.5 795.9,667.5 797.0,669.8 798.2,672.8 799.4,674.1 801.0,672.0 802.4,671.8 803.8,671.1 805.6,669.5 807.2,671.6 808.8,668.8 810.0,667.9 811.4,665.6 812.8,665.4 813.6,661.5 815.9,663.5 817.4,665.4 819.3,665.6 821.6,663.9 822.3,665.6 822.8,666.1 824.0,665.3 825.5,669.2 826.5,669.9 828.3,669.6 829.3,666.4 830.9,666.1 832.6,669.4 834.4,667.9 836.1,670.4 838.5,671.2 839.7,670.9 842.1,671.6 844.4,673.1 846.8,669.5 848.5,669.6 850.9,669.3 852.3,667.3 853.6,667.0 855.9,669.0 857.5,668.6 858.8,673.3 861.0,669.0 862.4,670.8 863.7,670.6 865.2,669.7 866.3,668.6 867.9,664.1 869.5,663.7 870.4,664.8 872.8,663.9 874.1,661.2 875.4,659.9 877.6,658.5 878.8,658.2 880.7,657.4 882.6,657.8 884.0,654.6 884.2,654.2 885.9,654.5 887.8,655.1 889.7,656.0 891.1,657.7 892.8,658.1 894.5,659.1 896.5,662.5 897.5,662.1 899.8,663.1 900.6,664.5 902.8,661.0 904.2,660.6 906.9,657.6 906.9,657.6 909.1,655.3 910.1,653.3 910.8,652.6 913.2,651.7 914.4,653.3 916.0,653.1 917.9,653.6 919.6,653.6 920.4,655.8 922.6,654.3 924.3,653.2 925.5,652.3 927.0,652.2 927.8,649.9 928.6,648.0 929.1,645.1 930.9,648.2 932.1,650.2 932.7,650.6 934.2,653.2 935.3,654.6 937.1,652.8 938.8,650.2 940.9,650.8 942.5,653.0 943.1,653.4 945.4,652.9 946.9,648.9 948.9,651.4 950.2,648.5 951.5,651.2 953.3,652.0 954.8,654.2 955.8,654.6 958.5,655.0 960.0,651.9 960.8,652.1 963.2,650.5 963.6,649.1 964.7,652.7 965.5,652.7 966.1,654.5 967.1,654.9 968.7,658.4 969.4,659.9 971.6,659.4 972.3,658.2 974.4,657.3 976.0,659.7 977.1,662.8 977.6,663.8 978.4,664.5 980.4,664.4 981.0,661.4 982.6,660.2 983.8,658.2 985.7,656.7 987.7,655.7 989.0,656.4 990.9,658.4 992.5,659.1 993.9,659.5 995.3,658.5 998.1,659.5 1000.1,662.1 1002.1,662.5 1002.6,663.3 1004.6,663.4 1006.4,666.9 1008.1,665.2 1009.3,664.6 1011.4,663.4 1013.0,663.9 1015.4,661.1 1017.2,663.3 1019.7,660.2 1021.5,662.2 1023.9,662.0 1025.9,659.2 1028.2,660.5 1030.0,659.9 1032.1,658.5 1033.2,661.7 1035.3,663.0 1036.8,661.9 1039.8,661.5 1041.5,662.2 1043.2,663.0 1044.3,667.0 1046.0,667.2 1047.8,667.3 1049.3,668.7 1051.0,668.7 1052.7,666.8 1053.8,666.3 1056.2,662.5 1057.7,665.2 1058.7,664.9 1060.5,667.6 1060.8,668.9 1061.9,671.7 1063.1,672.3 1063.5,673.1 1064.7,678.0 1066.0,678.0 1067.1,681.1 1067.8,680.7 1068.9,684.4 1070.3,684.4 1071.6,687.9 1071.8,687.5 1073.1,689.6 1074.3,691.6 1075.3,691.2 1075.6,694.9 1076.3,697.9 1077.4,698.1 1077.4,701.4 1077.9,702.9 1078.8,703.2 1079.5,706.6 1079.9,707.3 1081.6,708.2 1081.7,712.0 1083.0,714.7 1083.3,714.9 1084.2,718.1 1084.9,720.4 1085.2,720.0 1086.1,721.6 1086.9,724.3 1087.1,726.5 1087.9,727.8 1088.5,730.4 1089.4,731.3 1090.5,732.8 1091.5,736.3 1092.4,734.9 1093.7,738.5 1094.6,740.0 1094.5,742.8 1094.6,744.8 1095.2,745.4 1096.4,747.7 1096.9,748.9 1097.3,750.4 1097.2,751.7 1097.9,756.2 1098.5,757.3 1099.0,759.3 1099.5,760.1 1099.9,763.1 1101.2,765.4 1101.0,765.3 1101.9,768.6 1102.3,770.9 1103.2,772.7 1104.2,774.6 1104.0,776.8 1105.3,777.1 1105.5,780.2 1106.1,781.2 1106.6,784.3 1107.6,786.0 1108.0,789.1 1108.1,790.1 1109.4,793.0 1109.9,795.4 1110.2,796.4 1111.0,798.0 1111.8,799.7 1111.7,802.7 1111.9,803.9 1112.8,805.1 1113.2,810.1 1114.0,810.6 1114.8,811.3 1115.4,811.6 1115.8,817.4 1116.3,817.4 1116.7,820.0 1117.3,821.5 1117.5,823.0 1118.0,825.6 1117.9,826.2 1118.7,828.7 1118.2,831.3 1119.9,831.8 1119.5,835.3 1120.5,836.0 1121.6,840.2 1121.6,840.4 1122.4,841.0 1123.7,838.9 1124.9,835.8 1125.3,834.5 1125.8,830.5 1126.6,830.4 1126.9,825.3 1127.3,826.4 1127.2,824.5 1127.6,822.1 1127.8,819.0 1128.0,817.7 1128.1,814.1 1128.9,814.1 1128.6,811.7 1129.1,810.5 1129.9,805.7 1130.3,804.4 1129.8,804.4 1130.0,799.7 1130.8,801.4 1130.5,798.3 1131.5,795.8 1132.1,794.6 1132.2,792.6 1133.7,789.7 1134.5,786.9 1135.4,788.6 1136.6,783.1 1137.3,780.7 1138.3,780.2 1138.7,779.7 1139.7,778.4 1139.8,774.2 1140.0,775.1 1140.2,771.2 1139.8,768.4 1140.3,766.8 1140.2,765.9 1140.1,761.5 1140.6,761.0 1140.4,759.8 1140.6,757.7 1140.6,756.9 1140.9,753.4 1141.0,752.5 1141.8,748.9 1142.8,745.4 1143.0,746.5 1143.5,746.8 1143.6,743.6 1142.9,740.5 1143.5,739.2 1143.5,734.6 1143.8,734.6 1143.5,732.1 1143.5,730.7 1144.0,727.9 1144.0,724.6 1143.7,722.2 1144.1,721.0 1144.1,720.9 1144.3,719.2 1144.5,716.1 1144.4,714.2 1144.3,713.5 1144.2,711.7 1144.1,708.4 1145.2,706.1 1145.1,705.1 1144.6,701.3 1145.2,701.3 1144.5,699.7 1145.1,697.4 1145.5,695.1 1145.0,692.8 1145.2,690.1 1145.8,687.9 1145.7,688.5 1145.8,684.5 1146.3,681.6 1146.4,680.9 1146.7,678.5 1146.9,676.3 1147.1,674.9 1147.2,672.7 1147.1,672.0 1147.3,671.3 1147.6,666.9 1147.4,665.0 1147.7,663.8 1147.3,663.6 1148.2,659.7 1148.1,657.9 1147.8,657.5 1148.5,654.2 1147.9,651.6 1148.6,649.3 1149.2,648.5 1148.3,647.6 1149.2,645.4 1149.0,644.0 1149.3,640.0 1149.7,640.1 1149.9,638.3 1149.6,634.1 1149.6,634.6 1150.1,630.5 1150.3,628.0 1151.3,626.9 1150.7,624.9 1151.3,623.2 1151.1,620.3 1151.5,617.5 1151.9,617.9 1152.2,614.1 1151.7,614.2 1151.8,611.0 1152.2,608.3 1151.9,606.9 1152.3,606.1 1152.3,603.1 1152.9,601.2 1152.5,600.7 1153.2,597.8 1153.5,595.6 1153.3,594.3 1153.5,589.9 1153.6,590.3 1153.7,588.5 1153.9,585.6 1153.5,584.2 1154.0,581.2 1153.5,580.6 1154.6,576.3 1155.2,576.4 1154.5,573.0 1154.9,571.9 1155.5,571.9 1155.6,567.6 1155.6,565.5 1156.0,564.9 1156.5,562.0 1156.4,560.8 1156.4,558.6 1157.3,557.7 1158.2,555.5 1158.0,552.2 1158.8,551.1 1159.3,549.0 1159.3,551.2 1160.1,551.7 1161.4,553.7 1162.3,556.5 1163.3,557.8 1163.3,560.4 1164.5,561.1 1164.7,561.4 1165.2,557.5 1165.5,556.4 1165.8,553.8 1166.0,551.0 1166.5,550.1 1167.1,547.9 1166.6,546.3 1167.4,542.4 1168.3,541.2 1168.8,541.9 1168.8,538.8 1169.1,535.2 1169.5,531.5 1169.8,531.7 1169.6,528.7 1170.5,527.5 1171.1,526.8 1172.0,525.2 1172.4,525.5 1172.8,526.8 1173.4,530.9 1174.3,533.5 1174.6,534.5 1175.2,536.4 1175.0,537.6 1176.1,538.9 1175.7,541.2 1175.6,542.7 1176.6,544.8 1176.6,546.8 1177.2,549.6 1177.6,550.7 1178.2,552.1 1178.3,554.1 1178.7,557.1 1179.9,557.8 1179.2,562.3 1179.8,562.9 1180.2,565.1 1181.2,567.3 1181.7,570.3 1182.0,570.1 1182.1,572.1 1182.0,574.0 1182.3,577.0 1183.4,578.1 1183.2,580.4 1184.2,581.6 1184.9,585.2 1184.9,584.3 1185.5,587.6 1185.6,588.3 1185.9,592.6 1186.2,593.5 1186.6,596.9 1187.3,596.9 1188.5,599.4 1188.0,601.9 1188.8,604.2 1189.1,605.8 1189.2,607.9 1189.9,608.3 1190.6,610.3 1191.2,615.2 1191.4,615.7 1191.3,616.5 1192.0,619.4 1193.1,620.9 1193.9,623.0 1194.4,624.1 1196.1,624.0 1198.1,627.9 1199.1,630.2 1200.1,629.8 1201.1,632.0 1200.4,634.6 1201.8,635.5 1201.9,636.0 1202.8,638.2 1202.8,641.1 1203.7,641.8 1204.5,642.9 1205.4,649.5 1205.9,649.0 1207.0,651.6 1208.6,652.4 1208.9,655.5 1210.1,658.5 1211.1,659.5 1212.9,661.8 1214.6,661.9 1216.0,663.5 1217.6,664.2 1219.7,660.3 1222.2,659.5 1224.1,657.1 1224.9,658.9 1226.6,656.3 1228.5,655.1 1230.1,653.6 1231.5,653.1 1233.4,650.6 1235.4,648.7 1237.4,647.3 1239.2,645.9 1240.9,645.5 1243.1,644.7 1244.7,645.9 1246.7,646.5 1249.1,646.6 1251.5,648.5 1253.8,646.9 1255.4,648.0 1257.3,647.2 1259.7,644.8 1261.6,646.3 1262.6,648.1 1264.1,649.7 1265.8,649.1 1268.1,651.5 1270.6,649.0 1272.5,649.9 1274.3,653.1 1274.6,651.9 1276.3,656.3 1276.8,656.3 1279.1,658.5 1281.4,657.0 1281.9,658.6 1284.1,660.3 1285.9,660.4 1287.8,658.1 1289.2,656.3 1291.0,659.7 1293.4,657.0 1294.8,659.1 1296.6,659.8 1298.9,659.1 1301.3,659.8 1303.0,659.1 1305.3,659.3 1307.1,658.7 1309.4,659.2 1311.2,660.8 1312.8,656.3 1314.0,659.3 1315.6,655.3 1317.0,652.3 1318.6,655.8 1320.7,657.4 1322.7,655.9 1325.7,658.1 1327.5,658.5 1329.6,656.6 1331.5,657.4 1333.9,656.2 1335.3,654.2 1337.8,654.9 1339.8,653.7 1342.5,653.7 1343.4,655.0 1345.8,653.6 1347.3,653.5 1349.6,653.3 1351.5,653.4 1352.7,652.3 1355.0,655.4 1356.6,655.8 1359.0,656.6 1360.7,657.8 1363.0,656.9 1364.5,659.3 1365.5,659.9 1367.1,661.7 1369.1,664.0 1371.0,660.3 1373.2,663.3 1374.6,661.0 1376.7,663.5 1377.6,663.6 1379.6,663.0 1380.8,664.7 1383.3,665.5 1384.8,662.7 1387.0,665.6 1389.3,663.6 1390.7,662.4 1393.6,663.9 1395.1,665.2 1397.1,665.5 1398.7,663.7 1401.5,665.6 1403.2,666.1 1405.6,665.8 1406.9,666.5 1409.1,668.3 1411.3,666.7 1413.4,666.6 1415.4,666.0 1417.3,663.6 1419.2,664.9 1421.4,665.3 1423.2,663.7 1426.0,664.6 1427.5,665.7 1430.1,663.3 1431.6,663.3 1434.0,662.5 1435.5,664.3 1437.3,665.5 1439.6,665.5 1441.6,664.7 1442.7,670.5 1444.2,669.5 1446.3,668.4 1447.4,667.6 1449.1,664.9 1451.5,663.9 1452.6,664.4 1454.6,664.6 1456.5,668.1 1457.6,667.6 1459.7,666.3 1461.7,665.7 1462.7,664.3 1464.8,663.0 1466.7,664.0 1468.0,665.2 1470.2,664.1 1471.9,665.8 1473.5,666.5 1475.0,668.6 1476.0,668.8 1477.7,667.0 1479.4,669.5 1482.1,669.0 1482.9,670.4 1484.4,671.7 1485.2,674.3 1486.3,675.2 1487.5,678.5 1488.5,678.7 1489.9,680.8 1492.2,680.3 1493.0,682.2 1495.8,683.1 1496.2,684.9 1498.1,685.2 1499.2,688.0 1500.5,688.6 1502.0,691.5 1503.0,691.0 1505.9,690.5 1507.1,689.6 1509.9,688.0 1510.6,685.5 1512.0,685.6 1512.0,681.1 1513.5,681.4 1514.1,679.1 1515.3,677.4 1515.9,674.0 1516.4,673.3 1517.8,671.1 1519.6,670.6 1521.3,671.6 1523.3,669.3 1524.8,671.1 1525.6,672.9 1526.7,674.5 1528.2,675.8 1529.2,677.2 1530.7,678.4 1532.0,679.2 1532.9,680.7 1533.8,684.6 1534.4,684.2 1535.8,686.5 1536.9,688.0 1539.0,689.0 1539.7,690.2 1541.5,687.5 1543.4,688.4 1544.6,685.7 1544.9,683.8 1545.6,682.5 1546.0,682.6 1545.7,680.1 1546.8,678.2 1547.1,675.0 1547.8,673.2 1547.0,671.4 1548.2,666.8 1548.4,666.5 1548.1,664.2 1548.7,662.2 1548.7,660.7 1549.9,659.2 1550.2,656.0 1551.3,653.1 1552.0,653.2 1553.0,650.8 1555.2,652.4 1557.1,654.2 1558.8,655.5 1561.2,656.0 1562.1,656.1 1563.6,659.4 1564.7,659.5 1566.3,664.0 1568.2,664.1 1569.4,664.6 1571.1,667.9 1573.4,666.6 1574.5,670.0 1576.9,669.4 1578.9,669.7 1581.1,673.4 1583.1,671.6 1585.2,670.2 1587.9,670.9 1589.9,670.5 1591.1,670.1 1592.3,671.6 1594.4,676.7 1595.9,672.1 1597.5,670.2 1599.4,670.6 1601.3,669.1 1603.0,667.7 1604.7,668.4 1606.6,668.4 1609.0,669.4 1611.0,668.3 1612.6,667.9 1614.7,668.9 1616.7,668.6"/>
<polyline stroke="#ff0000" points="251.2,678.0 253.1,677.2 255.2,677.5 257.2,677.2 259.1,676.7 261.1,677.1 263.1,676.8 265.0,676.3 266.6,675.5 268.2,673.4 269.9,672.4 271.6,671.5 273.4,670.7 275.0,668.5 276.9,668.7 278.8,667.5 280.8,667.2 282.5,666.7 284.3,666.4 286.3,665.8 288.0,665.5 289.8,665.1 291.5,664.8 293.1,664.3 295.0,663.8 297.0,663.9 298.9,663.8 300.9,663.8 303.0,663.5 305.0,663.3 307.1,663.6 308.9,662.8 311.1,663.3 313.0,663.0 315.2,663.0 316.7,661.9 318.4,660.4 320.3,660.0 322.1,659.1 323.8,657.6 325.9,658.7 327.9,659.3 330.0,660.4 332.1,660.0 334.5,659.5 336.5,659.7 338.8,658.9 340.1,657.3 341.4,656.3 342.5,655.2 343.8,653.1 344.8,652.3 345.9,650.7 346.9,648.4 348.0,647.2 349.0,645.5 350.0,643.7 351.0,642.0 352.1,640.4 353.2,638.5 354.3,636.7 355.4,635.0 356.4,633.2 357.5,631.2 358.3,629.2 359.2,628.1 360.0,626.0 360.7,624.7 361.7,623.0 362.5,621.4 363.9,619.2 365.6,618.6 367.3,616.9 368.7,615.0 371.0,615.1 373.2,614.7 375.4,614.6 377.4,613.8 379.2,613.9 380.8,613.7 382.6,613.2 384.5,613.8 386.2,614.0 388.1,613.9 389.9,613.9 391.7,613.8 393.6,613.5 395.3,612.8 397.1,612.6 398.7,612.1 400.4,613.0 401.7,614.7 403.1,615.8 404.7,617.5 405.9,618.4 407.5,620.4 409.4,619.4 411.3,618.3 413.2,618.0 415.1,616.7 416.8,616.0 418.8,614.9 420.8,614.9 422.5,614.7 424.3,614.8 426.3,614.6 428.0,615.0 430.0,614.8 432.0,614.9 433.8,615.0 435.0,613.0 436.3,611.4 437.6,610.5 438.6,609.1 439.9,607.5 441.3,606.2 443.1,605.9 444.9,604.3 446.8,603.6 448.8,603.1 450.7,602.6 452.5,602.3 454.5,601.9 456.6,601.5 458.5,600.8 460.4,601.2 462.5,600.6 464.4,599.5 466.4,598.6 468.5,598.2 470.4,597.2 472.5,596.3 474.3,596.1 476.4,595.7 478.1,595.6 479.9,594.6 482.0,594.8 483.7,594.3 485.6,594.4 487.1,593.9 488.8,594.1 490.6,594.9 492.5,595.5 494.3,596.1 496.2,596.9 497.9,595.9 499.4,594.7 501.1,594.2 502.3,592.5 503.2,589.7 504.2,588.4 505.2,586.7 506.2,585.3 506.8,583.2 507.5,580.8 508.0,578.9 508.8,576.9 509.3,574.8 510.0,573.0 510.6,570.8 511.4,568.7 512.8,567.5 514.1,566.2 515.5,564.5 516.8,566.3 518.1,567.4 519.5,568.4 520.2,570.5 520.9,572.5 521.8,574.2 522.3,576.0 523.0,578.1 523.9,579.8 525.5,581.2 527.3,582.8 529.0,583.3 530.9,584.3 532.6,584.9 534.4,584.8 536.4,585.0 538.4,585.2 540.4,585.0 542.6,585.0 544.0,583.9 545.4,583.3 547.0,581.7 548.5,581.1 550.1,579.8 551.9,579.1 553.9,578.8 555.2,577.3 556.7,576.6 558.2,574.9 559.7,573.2 561.2,571.9 563.1,571.1 564.9,571.5 567.0,571.2 568.8,571.5 570.6,570.8 572.5,570.8 574.4,570.0 576.2,569.8 578.0,570.1 580.0,569.5 581.2,568.5 582.5,567.2 583.9,566.7 585.5,565.8 587.1,565.9 588.8,565.4 590.4,566.0 592.2,567.5 593.8,568.7 596.1,568.4 598.7,568.1 600.5,567.8 602.4,566.7 604.4,566.5 606.3,565.6 608.2,565.8 610.4,565.9 612.5,566.0 614.7,566.5 616.8,565.9 618.7,566.4 620.4,564.8 622.2,563.1 623.9,562.4 625.5,563.6 627.2,565.1 628.7,566.3 630.6,567.4 632.4,567.9 634.1,568.5 635.8,569.0 637.6,569.1 639.2,568.0 640.9,566.8 642.7,565.7 644.4,566.7 646.2,567.3 648.1,568.3 649.9,569.1 651.8,569.2 653.8,568.7 655.6,568.5 657.4,568.4 659.3,568.3 661.2,567.9 663.0,567.5 665.0,566.9 666.9,566.5 668.8,565.9 669.9,565.7 671.8,565.4 673.8,564.7 675.7,564.4 677.4,563.4 679.2,563.2 681.2,562.2 682.7,561.1 684.4,560.2 685.9,559.0 687.5,557.4 689.4,557.6 691.6,557.3 693.5,557.3 695.5,557.5 697.4,557.4 699.3,556.6 701.1,554.9 703.3,554.5 705.5,554.9 707.4,554.6 709.5,554.1 711.7,554.1 713.8,554.0 715.6,554.0 717.2,552.5 719.1,552.3 720.9,551.7 722.6,551.3 724.1,549.6 725.9,548.7 727.5,546.5 729.6,547.0 731.8,546.8 733.9,547.0 735.8,547.1 737.8,546.9 740.1,547.2 741.5,545.8 743.1,543.9 744.6,542.6 746.1,541.4 748.2,540.0 750.2,539.3 751.8,538.2 753.7,536.7 755.5,537.8 757.1,538.5 758.8,539.2 760.5,540.6 762.0,541.5 763.8,543.4 765.9,542.0 767.9,541.3 770.0,540.0 771.5,541.5 773.2,542.8 774.7,544.4 776.3,545.6 777.8,547.0 779.2,547.8 780.7,549.6 782.2,550.6 783.7,552.4 785.4,552.2 787.3,552.3 788.8,553.1 789.1,550.4 789.1,548.5 789.4,547.0 789.7,544.6 789.8,542.9 790.1,541.3 790.3,539.7 790.6,537.9 790.9,535.9 791.2,533.4 791.3,531.4 791.8,529.1 792.0,526.7 792.4,525.0 792.7,523.0 793.0,521.2 793.5,519.0 794.2,517.2 794.9,515.1 795.6,513.5 796.1,511.6 796.7,513.3 797.0,515.1 797.5,517.0 798.0,518.6 798.3,520.6 798.9,522.3 799.3,524.3 799.8,526.5 800.2,528.4 800.6,530.3 801.2,533.1 802.2,530.6 803.1,528.9 804.1,527.0 805.1,525.3 806.7,526.2 808.4,527.5 810.1,528.9 811.8,529.3 813.9,529.4 815.7,529.9 817.5,529.9 819.1,530.8 820.7,532.0 822.4,533.3 824.5,533.1 826.4,532.9 828.5,533.2 830.6,532.9 832.4,533.2 833.9,534.4 835.8,535.8 837.3,537.1 838.8,538.4 841.0,539.0 843.0,538.9 844.8,539.2 847.2,538.4 849.2,539.4 851.2,538.8 852.9,538.0 854.7,537.1 856.5,536.4 858.3,535.6 860.1,534.3 862.1,533.0 864.1,532.9 866.1,532.5 867.2,529.9 868.4,528.5 869.4,526.6 870.4,524.6 871.4,523.0 872.5,521.2 873.7,519.9 875.0,518.2 876.2,516.8 877.4,515.3 878.8,514.1 880.0,512.5 881.6,511.9 883.3,511.6 885.0,510.9 886.9,512.2 888.8,513.0 890.6,512.4 892.6,512.0 894.0,513.7 895.6,515.3 897.3,516.5 898.8,518.6 900.8,517.9 902.9,517.7 904.9,517.9 907.0,518.3 909.2,518.4 911.2,518.2 912.7,516.9 914.5,516.1 916.2,515.1 918.2,515.8 920.4,515.8 922.3,517.3 924.1,517.6 925.7,517.6 927.6,517.8 929.1,516.8 930.8,515.9 932.1,515.1 933.7,513.7 935.9,513.3 938.2,513.8 940.3,513.5 942.5,513.1 944.3,514.4 945.9,516.0 947.4,516.9 949.8,516.8 951.8,516.7 953.8,517.3 955.5,517.8 957.3,518.9 959.1,519.9 960.9,520.4 962.5,521.1 964.3,521.8 966.2,522.4 968.0,523.4 969.9,523.5 971.8,524.2 973.6,524.6 975.3,525.1 977.1,525.7 978.8,526.3 980.9,526.1 982.9,526.3 984.9,526.2 986.8,525.6 988.5,525.6 990.4,524.2 992.2,524.2 993.9,523.7 995.6,524.9 997.1,526.5 999.0,527.8 1000.7,527.3 1002.8,527.4 1004.7,526.8 1006.7,527.2 1008.8,527.3 1011.0,527.8 1013.0,528.4 1015.0,529.2 1016.6,529.4 1018.4,529.0 1020.1,529.2 1021.5,528.0 1023.2,526.6 1024.5,526.4 1026.2,525.2 1027.9,525.4 1029.5,525.5 1031.3,525.8 1032.4,527.0 1033.8,528.4 1035.0,529.6 1037.0,528.9 1038.8,527.6 1039.9,527.0 1041.7,527.0 1043.5,527.4 1045.4,528.3 1047.3,528.1 1048.9,528.0 1050.8,528.3 1052.6,528.2 1054.3,527.9 1055.6,529.4 1056.9,531.4 1058.2,532.6 1059.7,534.8 1061.3,535.3 1063.2,535.9 1064.9,537.0 1066.9,537.8 1067.9,539.5 1068.9,540.6 1069.9,542.7 1071.0,544.0 1072.1,545.7 1073.6,547.0 1075.0,549.1 1076.5,550.5 1077.8,552.3 1079.1,553.8 1080.2,555.5 1082.0,557.6 1083.8,558.4 1085.5,560.3 1086.9,561.2 1088.6,562.8 1089.9,564.7 1091.0,566.5 1091.8,567.5 1092.7,568.9 1093.5,571.3 1095.0,572.7 1096.5,574.4 1098.1,576.3 1099.9,577.2 1101.7,578.2 1103.4,578.7 1105.1,578.7 1107.0,579.2 1108.6,578.6 1110.3,576.9 1111.7,575.2 1113.2,574.0 1114.1,571.5 1115.1,569.5 1115.9,567.7 1116.8,565.4 1117.7,564.1 1118.4,562.1 1119.5,560.2 1120.3,558.7 1121.2,556.7 1121.9,554.9 1122.3,552.8 1123.0,550.9 1123.7,549.0 1124.2,547.0 1124.7,545.1 1125.2,543.2 1125.8,541.3 1126.3,539.2 1126.8,537.4 1127.4,535.4 1127.8,533.7 1128.5,531.8 1129.3,529.8 1130.3,527.4 1131.0,525.3 1132.9,523.9 1134.5,522.2 1136.4,521.4 1136.8,519.2 1137.3,516.7 1137.7,515.5 1138.2,512.9 1138.7,511.3 1139.1,509.3 1139.6,507.5 1140.1,505.7 1140.2,503.7 1140.8,501.3 1141.3,500.0 1141.5,497.8 1142.0,495.7 1142.4,494.2 1142.7,491.7 1143.3,490.1 1143.7,487.5 1143.8,485.7 1144.2,483.5 1144.8,482.4 1144.9,479.6 1145.3,477.9 1145.4,475.7 1145.8,473.7 1146.2,471.4 1146.3,469.4 1146.8,468.1 1147.0,466.0 1147.2,463.5 1147.5,461.3 1147.7,459.6 1148.0,457.1 1148.6,455.9 1148.9,453.7 1149.4,451.5 1149.9,449.5 1150.1,447.3 1150.6,444.8 1151.2,443.1 1151.6,441.7 1152.5,439.8 1153.4,438.0 1154.4,436.2 1155.2,434.5 1156.6,436.1 1157.9,436.9 1158.3,438.5 1158.7,440.6 1159.2,442.4 1159.5,443.5 1160.5,445.7 1161.4,447.0 1162.3,449.2 1163.2,450.2 1165.9,449.2 1167.8,447.9 1169.5,447.0 1171.2,448.4 1173.0,449.1 1173.6,451.7 1174.4,453.2 1175.1,455.6 1175.7,457.7 1176.2,459.5 1176.6,461.4 1177.0,463.4 1177.4,465.8 1177.9,466.8 1178.4,469.4 1178.9,470.9 1179.3,472.7 1179.9,474.5 1180.5,476.5 1180.9,477.7 1181.6,480.0 1182.0,481.8 1182.7,483.6 1183.7,485.0 1184.7,486.7 1185.5,488.8 1186.4,490.5 1187.3,492.3 1188.1,493.9 1189.0,495.7 1189.9,496.7 1191.0,498.6 1191.9,500.2 1192.7,502.5 1193.7,503.8 1195.0,504.7 1196.5,507.1 1198.0,509.0 1199.5,509.3 1201.1,510.9 1202.5,511.6 1204.3,513.8 1206.0,514.8 1208.0,516.6 1209.5,517.7 1211.0,518.9 1212.6,520.0 1214.1,521.2 1216.4,520.5 1218.5,519.6 1220.7,519.5 1222.7,517.9 1224.8,517.3 1226.7,515.7 1228.6,514.0 1230.3,512.6 1232.3,512.2 1234.6,510.8 1236.4,509.8 1238.2,508.4 1240.2,508.1 1242.2,509.0 1244.2,508.2 1246.3,508.7 1248.0,508.8 1249.8,509.7 1251.7,510.3 1253.4,511.2 1255.3,512.0 1257.1,512.6 1258.8,512.9 1260.7,512.5 1262.4,512.8 1264.0,511.9 1265.9,510.4 1267.7,509.1 1269.9,508.3 1272.0,507.1 1273.6,508.6 1275.2,510.3 1276.5,511.1 1277.5,513.4 1278.5,514.4 1279.4,516.0 1280.1,517.3 1281.0,519.1 1283.0,518.6 1284.6,518.4 1286.4,517.8 1288.6,518.3 1290.8,519.0 1292.9,518.6 1294.9,517.2 1297.0,517.4 1299.0,517.3 1300.8,517.0 1302.5,516.4 1304.3,516.8 1306.0,516.9 1307.9,517.3 1309.6,517.3 1311.5,517.5 1313.3,517.3 1315.2,517.2 1317.3,516.7 1319.5,516.1 1321.6,515.6 1323.5,515.3 1325.8,514.5 1327.5,514.5 1329.2,514.3 1331.3,514.0 1332.8,514.3 1334.2,513.1 1336.0,512.3 1337.3,510.5 1340.1,509.4 1342.1,509.1 1344.3,509.4 1346.3,508.7 1348.7,508.1 1350.6,508.6 1352.6,508.8 1354.6,508.3 1356.3,509.5 1358.0,511.1 1359.7,511.6 1361.3,511.7 1363.1,511.7 1364.7,512.1 1366.3,513.2 1368.1,514.6 1369.8,515.0 1371.1,516.3 1372.8,517.0 1374.9,516.3 1377.0,516.8 1378.9,516.0 1381.1,515.9 1383.0,515.8 1384.9,515.3 1387.1,515.0 1389.1,514.4 1391.2,515.2 1393.2,515.2 1395.3,516.2 1397.1,515.7 1399.1,516.2 1401.2,516.2 1403.3,517.2 1405.2,516.6 1407.3,517.2 1409.4,516.4 1411.4,516.4 1413.5,515.8 1415.3,515.4 1417.3,515.5 1419.5,515.8 1421.5,515.1 1423.5,515.7 1425.5,514.4 1427.5,513.1 1429.4,512.0 1431.2,512.0 1432.9,512.4 1434.5,512.8 1436.4,513.9 1438.1,514.7 1440.0,515.2 1441.8,515.7 1443.5,516.1 1445.3,515.8 1447.0,515.5 1448.7,515.3 1450.8,514.8 1452.8,514.1 1454.9,513.3 1456.7,512.9 1458.3,514.0 1460.2,513.1 1462.0,513.7 1463.8,514.6 1466.0,514.9 1467.9,515.8 1469.6,515.3 1471.3,515.1 1472.9,514.9 1474.7,515.8 1476.1,516.6 1478.1,517.4 1480.0,517.5 1481.6,518.1 1483.7,518.2 1485.2,518.0 1487.1,519.4 1488.7,521.2 1490.5,522.4 1492.4,523.2 1494.3,524.0 1496.2,523.5 1498.3,524.1 1500.4,523.4 1502.2,522.9 1503.9,521.6 1505.6,520.8 1507.4,519.6 1508.8,517.6 1509.9,516.1 1511.2,514.5 1512.4,513.1 1514.0,511.6 1515.4,511.1 1517.0,509.8 1518.7,511.8 1520.7,513.3 1521.7,514.6 1522.7,515.8 1523.6,518.0 1525.7,517.9 1527.7,518.3 1529.0,520.3 1530.2,521.5 1531.4,523.1 1532.7,524.6 1534.3,523.3 1536.1,522.4 1537.7,521.9 1539.4,520.6 1541.2,519.3 1543.0,518.4 1543.8,515.9 1544.4,514.1 1545.3,512.7 1546.0,510.6 1546.8,508.2 1548.5,507.0 1550.2,505.4 1551.9,504.1 1553.5,504.6 1555.3,506.3 1556.9,507.6 1558.9,507.8 1561.0,509.0 1563.1,509.7 1564.2,510.9 1565.7,512.3 1567.0,513.8 1568.3,515.1 1570.0,517.1 1571.4,517.4 1573.2,518.1 1575.1,518.6 1577.3,518.6 1579.4,519.2 1581.2,518.5 1583.4,517.1 1585.4,516.5 1587.1,517.1 1588.8,518.3 1590.5,518.9 1592.1,518.9 1593.8,518.8 1595.7,518.7 1597.4,518.8 1599.5,517.2 1601.6,516.0 1603.6,518.5 1605.5,519.0 1607.5,518.9 1609.7,517.7 1611.6,516.8 1613.3,515.9 1615.1,515.9 1616.7,514.9"/>
<polyline stroke="#ff0000" points="251.2,442.0 261.2,443.0 270.0,435.8 278.8,442.0 293.8,442.5 301.2,448.0 311.2,448.2 322.5,453.8 331.2,463.8 336.2,464.2 341.2,461.8 350.0,461.2 357.5,455.0 362.5,438.8 367.5,412.5 372.5,402.5 378.8,395.5 387.5,400.0 397.5,411.2 408.8,426.2 415.0,427.5 420.0,425.8 428.8,425.8 438.8,438.0 447.5,432.0 453.8,430.0 460.0,423.8 467.5,428.2 472.5,428.0 477.5,423.8 483.8,426.8 491.2,427.5 496.2,426.2 499.2,423.8 503.8,427.5 508.8,422.5 513.8,412.5 517.0,401.2 520.0,401.8 526.2,410.0 535.0,410.0 542.5,406.2 550.0,406.2 554.5,403.8 560.0,407.5 563.8,407.5 571.2,399.5 577.5,398.0 582.5,394.2 590.0,399.5 596.2,396.2 602.5,395.8 608.8,392.5 615.0,393.8 621.2,392.5 626.2,398.0 631.2,393.8 636.2,387.5 640.0,388.8 646.2,403.8 652.5,400.0 660.0,401.2 666.2,396.2 670.0,400.5 673.8,403.0 682.5,398.0 687.5,398.2 693.8,395.0 706.2,397.0 712.5,405.0 720.0,396.2 725.0,396.2 730.0,398.8 737.5,396.2 743.8,383.2 751.2,382.5 757.5,390.0 765.0,401.2 768.8,403.2 777.5,401.2 783.8,396.2 788.8,400.0 793.8,400.0 800.0,388.8 807.5,381.8 816.2,381.2 821.2,379.5 828.8,386.2 836.2,380.8 851.2,380.0 856.2,376.8 861.2,378.8 866.2,384.5 871.2,381.2 875.0,373.0 882.5,368.0 887.5,370.0 896.2,380.0 900.0,383.8 906.2,377.0 912.5,372.0 921.2,370.0 927.5,372.5 933.8,361.2 938.8,360.8 945.0,367.5 955.0,365.0 962.5,359.2 966.2,365.5 972.5,372.0 980.0,375.0 988.8,369.5 995.0,377.5 1001.2,375.8 1008.8,380.0 1015.0,378.8 1021.2,372.5 1028.8,379.5 1033.8,379.5 1038.8,375.0 1043.8,377.5 1048.8,387.5 1057.5,395.8 1066.2,397.0 1072.5,403.8 1077.5,417.5 1078.4,419.3 1083.0,429.4 1087.6,435.8 1092.1,448.6 1095.8,455.0 1098.5,468.7 1103.1,483.4 1107.7,502.6 1112.3,517.2 1115.9,522.3 1118.7,523.2 1122.3,517.2 1124.1,500.7 1127.8,485.2 1130.5,470.5 1133.3,465.1 1137.0,459.6 1139.7,442.2 1142.4,420.2 1144.3,402.0 1146.1,367.2 1147.9,347.1 1149.8,321.5 1152.0,295.9 1154.3,282.1 1156.2,276.6 1158.9,279.4 1162.2,285.8 1165.3,284.0 1167.5,261.1 1170.8,252.9 1173.5,252.9 1176.3,260.2 1179.9,273.9 1184.5,284.9 1187.3,299.5 1190.0,308.7 1192.7,321.5 1195.5,329.7 1201.0,336.1 1202.8,346.2 1207.4,353.5 1212.0,358.0 1216.0,363.5 1220.2,359.0 1224.8,352.6 1228.4,356.2 1232.1,363.2 1237.6,357.1 1243.0,352.6 1247.6,352.6 1251.3,356.2 1253.1,361.3 1256.8,361.3 1262.3,357.1 1269.6,349.8 1272.3,350.7 1275.1,355.3 1276.9,359.9 1281.5,356.2 1284.2,357.1 1287.9,362.6 1293.4,358.0 1297.0,357.1 1301.6,360.8 1306.2,364.5 1312.6,363.2 1316.2,363.5 1319.9,364.8 1326.3,362.1 1331.8,366.3 1335.4,364.5 1340.0,359.9 1340.5,359.5 1348.6,359.1 1355.7,363.5 1359.7,369.6 1363.8,375.0 1368.8,373.0 1372.9,370.6 1378.9,375.7 1385.0,377.7 1391.1,380.3 1397.1,372.6 1404.2,373.0 1409.3,368.6 1413.3,367.0 1417.4,370.6 1421.4,373.6 1426.5,369.6 1431.6,369.6 1436.6,373.6 1441.7,370.6 1447.7,373.6 1453.8,371.6 1460.9,363.5 1466.0,369.6 1471.0,375.0 1475.1,369.6 1478.1,368.0 1481.1,374.6 1484.6,384.4 1490.2,384.8 1494.3,386.8 1499.4,390.4 1504.4,386.8 1509.5,386.4 1512.5,378.7 1515.5,370.6 1518.6,368.2 1522.6,368.6 1526.7,374.6 1530.7,382.7 1533.8,385.8 1538.8,384.4 1542.9,385.8 1545.9,384.8 1547.3,370.6 1552.0,361.5 1557.0,356.4 1561.1,360.5 1565.1,369.6 1568.2,372.6 1572.2,365.5 1576.3,362.9 1579.3,368.6 1581.3,378.7 1585.4,380.7 1589.4,376.7 1592.5,377.7 1596.5,381.1 1600.5,377.7 1604.6,371.6 1609.7,367.6 1613.7,362.5 1616.7,356.4"/>
</g>
<g class="ds">
<line x1="362.1" y1="237.2" x2="359.0" y2="1511.3"/>
<line x1="504.75" y1="241.6" x2="507.5" y2="1500.8"/>
<line x1="790.5" y1="227.9" x2="787.1" y2="1501.6"/>
<line x1="1141.4" y1="234.3" x2="1138.1" y2="1507.6"/>
<line x1="1514.5" y1="247.4" x2="1511.5" y2="1522.6"/>
<line x1="1550.1" y1="232.4" x2="1547.3" y2="1507.6"/>
</g>
<g font-size="68">
<text transform="translate(252.5,1640) scale(1,1.025)" text-anchor="middle" font-size="69">4</text>
<text transform="translate(413.1,1640) scale(1,1.025)" text-anchor="middle" font-size="69">5</text>
<text transform="translate(573.6,1640) scale(1,1.025)" text-anchor="middle" font-size="69">6</text>
<text transform="translate(734.2,1640) scale(1,1.025)" text-anchor="middle" font-size="69">7</text>
<text transform="translate(894.7,1640) scale(1,1.025)" text-anchor="middle" font-size="69">8</text>
<text transform="translate(1055.2,1640) scale(1,1.025)" text-anchor="middle" font-size="69">9</text>
<text transform="translate(1215.8,1640) scale(1,1.025)" text-anchor="middle" font-size="69">10</text>
<text transform="translate(1376.4,1640) scale(1,1.025)" text-anchor="middle" font-size="69">11</text>
<text transform="translate(1536.9,1640) scale(1,1.025)" text-anchor="middle" font-size="69">12</text>
<text transform="translate(274.4,158) scale(1,1.025)" text-anchor="middle" font-size="69">2</text>
<text transform="translate(606.3,158) scale(1,1.025)" text-anchor="middle" font-size="69">3</text>
<text transform="translate(938.2,158) scale(1,1.025)" text-anchor="middle" font-size="69">4</text>
<text transform="translate(1270.2,158) scale(1,1.025)" text-anchor="middle" font-size="69">5</text>
<text transform="translate(1602.1,158) scale(1,1.025)" text-anchor="middle" font-size="69">6</text>
<text transform="translate(198.5,707.5) scale(1,1.025)" text-anchor="end" font-size="69">1</text>
<text transform="translate(198.5,1441) scale(1,1.025)" text-anchor="end" font-size="69">0.1</text>
<text transform="translate(935.8,79.5) scale(1,1.04)" text-anchor="middle">Josephson frequency (THz)</text>
<text transform="translate(935,1712) scale(1,1.04)" text-anchor="middle">Voltage (mV)</text>
<text transform="translate(88,1363.5) rotate(-90) scale(0.996,1.04)">Differential conductance d<tspan font-style="italic">I</tspan>/d<tspan font-style="italic" dx="4.5">V</tspan><tspan font-size="62" dx="1"> (</tspan></text>
<text transform="translate(87.5,404.5) rotate(-90) scale(1.13,1)" font-family="Liberation Serif,serif" style="font-family:'Liberation Serif',serif">Ω</text>
<text transform="translate(54,348.5) rotate(-90)" font-size="41" style="font-family:'Liberation Serif',serif">−1</text>
<text transform="translate(88,306.5) rotate(-90) scale(1,1.04)" font-size="62">)</text>
<text transform="translate(598.7,330.3) scale(1,1.025)" text-anchor="middle" fill="#000" font-size="69">1a</text>
<text transform="translate(622.7,537) scale(1,1.025)" text-anchor="middle" fill="#808080" font-size="69">1b</text>
<text transform="translate(1375.5,626) scale(1,1.025)" text-anchor="middle" fill="#000" font-size="69">5a</text>
<text transform="translate(629.8,780.4) scale(1,1.025)" text-anchor="middle" fill="#000" font-size="69">2a</text>
<text transform="translate(602,979.3) scale(1,1.025)" text-anchor="middle" fill="#808080" font-size="69">2b</text>
<text transform="translate(632.4,1137.5) scale(1,1.025)" text-anchor="middle" fill="#000" font-size="69">4a</text>
<text transform="translate(613.2,1366.8) scale(1,1.025)" text-anchor="middle" fill="#808080" font-size="69">4b</text>
</g>
</svg></body></html>
